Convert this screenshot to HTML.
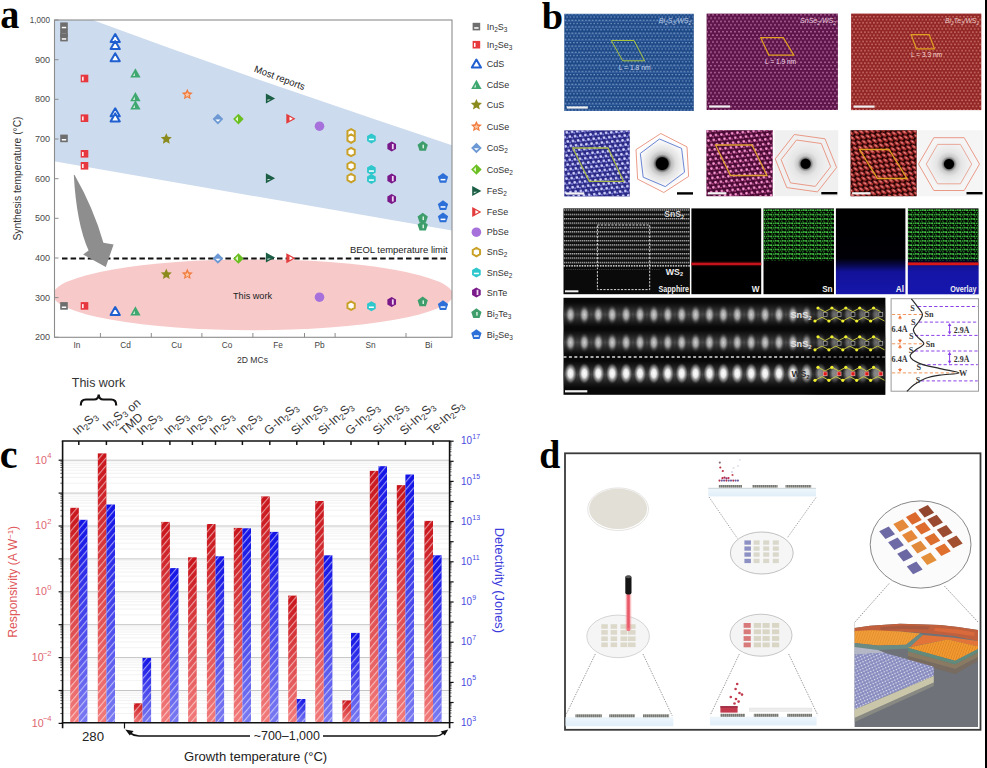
<!DOCTYPE html>
<html><head><meta charset="utf-8"><title>Figure</title>
<style>
html,body{margin:0;padding:0;background:#fff;}
body{width:987px;height:768px;overflow:hidden;}
svg{display:block;}
</style></head><body>
<svg width="987" height="768" viewBox="0 0 987 768">
<rect x="0" y="0" width="987" height="768" fill="#fff"/>
<defs><clipPath id="axA"><rect x="54.5" y="20" width="397.5" height="317.3"/></clipPath></defs>
<g clip-path="url(#axA)">
<polygon points="54,0 92.6,20 170,48.3 250,76.6 376.9,120 452,145.3 452,230.5 54,161.3" fill="#ccdbed"/>
<ellipse cx="253" cy="294.8" rx="200" ry="35.4" fill="#f7c9c9"/>
</g>
<rect x="54.5" y="20" width="397.5" height="317.3" fill="none" stroke="#8c8c8c" stroke-width="1.1"/>
<line x1="54.5" y1="337.3" x2="58.5" y2="337.3" stroke="#8c8c8c" stroke-width="1"/>
<text x="50" y="340.3" font-size="9.3" fill="#4a4a4a" text-anchor="end" textLength="15.1" lengthAdjust="spacingAndGlyphs" font-family="Liberation Sans, sans-serif">200</text>
<line x1="54.5" y1="297.6" x2="58.5" y2="297.6" stroke="#8c8c8c" stroke-width="1"/>
<text x="50" y="300.6" font-size="9.3" fill="#4a4a4a" text-anchor="end" textLength="15.1" lengthAdjust="spacingAndGlyphs" font-family="Liberation Sans, sans-serif">300</text>
<line x1="54.5" y1="258.0" x2="58.5" y2="258.0" stroke="#8c8c8c" stroke-width="1"/>
<text x="50" y="261.0" font-size="9.3" fill="#4a4a4a" text-anchor="end" textLength="15.1" lengthAdjust="spacingAndGlyphs" font-family="Liberation Sans, sans-serif">400</text>
<line x1="54.5" y1="218.3" x2="58.5" y2="218.3" stroke="#8c8c8c" stroke-width="1"/>
<text x="50" y="221.3" font-size="9.3" fill="#4a4a4a" text-anchor="end" textLength="15.1" lengthAdjust="spacingAndGlyphs" font-family="Liberation Sans, sans-serif">500</text>
<line x1="54.5" y1="178.7" x2="58.5" y2="178.7" stroke="#8c8c8c" stroke-width="1"/>
<text x="50" y="181.7" font-size="9.3" fill="#4a4a4a" text-anchor="end" textLength="15.1" lengthAdjust="spacingAndGlyphs" font-family="Liberation Sans, sans-serif">600</text>
<line x1="54.5" y1="139.0" x2="58.5" y2="139.0" stroke="#8c8c8c" stroke-width="1"/>
<text x="50" y="142.0" font-size="9.3" fill="#4a4a4a" text-anchor="end" textLength="15.1" lengthAdjust="spacingAndGlyphs" font-family="Liberation Sans, sans-serif">700</text>
<line x1="54.5" y1="99.3" x2="58.5" y2="99.3" stroke="#8c8c8c" stroke-width="1"/>
<text x="50" y="102.3" font-size="9.3" fill="#4a4a4a" text-anchor="end" textLength="15.1" lengthAdjust="spacingAndGlyphs" font-family="Liberation Sans, sans-serif">800</text>
<line x1="54.5" y1="59.7" x2="58.5" y2="59.7" stroke="#8c8c8c" stroke-width="1"/>
<text x="50" y="62.7" font-size="9.3" fill="#4a4a4a" text-anchor="end" textLength="15.1" lengthAdjust="spacingAndGlyphs" font-family="Liberation Sans, sans-serif">900</text>
<line x1="54.5" y1="20.0" x2="58.5" y2="20.0" stroke="#8c8c8c" stroke-width="1"/>
<text x="50" y="23.0" font-size="9.3" fill="#4a4a4a" text-anchor="end" textLength="20.2" lengthAdjust="spacingAndGlyphs" font-family="Liberation Sans, sans-serif">1,000</text>
<line x1="100.4" y1="337.3" x2="100.4" y2="333" stroke="#8c8c8c" stroke-width="1"/>
<line x1="151.3" y1="337.3" x2="151.3" y2="333" stroke="#8c8c8c" stroke-width="1"/>
<line x1="201.9" y1="337.3" x2="201.9" y2="333" stroke="#8c8c8c" stroke-width="1"/>
<line x1="252.9" y1="337.3" x2="252.9" y2="333" stroke="#8c8c8c" stroke-width="1"/>
<line x1="304.5" y1="337.3" x2="304.5" y2="333" stroke="#8c8c8c" stroke-width="1"/>
<line x1="335.1" y1="337.3" x2="335.1" y2="333" stroke="#8c8c8c" stroke-width="1"/>
<line x1="406" y1="337.3" x2="406" y2="333" stroke="#8c8c8c" stroke-width="1"/>
<text x="77" y="348" font-size="8.3" fill="#444" text-anchor="middle" font-family="Liberation Sans, sans-serif">In</text>
<text x="125.5" y="348" font-size="8.3" fill="#444" text-anchor="middle" font-family="Liberation Sans, sans-serif">Cd</text>
<text x="176.5" y="348" font-size="8.3" fill="#444" text-anchor="middle" font-family="Liberation Sans, sans-serif">Cu</text>
<text x="227" y="348" font-size="8.3" fill="#444" text-anchor="middle" font-family="Liberation Sans, sans-serif">Co</text>
<text x="278" y="348" font-size="8.3" fill="#444" text-anchor="middle" font-family="Liberation Sans, sans-serif">Fe</text>
<text x="319.5" y="348" font-size="8.3" fill="#444" text-anchor="middle" font-family="Liberation Sans, sans-serif">Pb</text>
<text x="370.6" y="348" font-size="8.3" fill="#444" text-anchor="middle" font-family="Liberation Sans, sans-serif">Sn</text>
<text x="428.7" y="348" font-size="8.3" fill="#444" text-anchor="middle" font-family="Liberation Sans, sans-serif">Bi</text>
<text x="252.5" y="363" font-size="8.6" fill="#333" text-anchor="middle" font-family="Liberation Sans, sans-serif">2D MCs</text>
<text transform="translate(20.8,178.5) rotate(-90)" font-size="10.3" fill="#333" text-anchor="middle" textLength="124" lengthAdjust="spacingAndGlyphs" font-family="Liberation Sans, sans-serif">Synthesis temperature (°C)</text>
<line x1="62" y1="258.5" x2="446" y2="258.5" stroke="#111" stroke-width="2.2" stroke-dasharray="5.5 3.1"/>
<text x="447.7" y="253.3" font-size="9.4" fill="#222" text-anchor="end" textLength="97.8" lengthAdjust="spacingAndGlyphs" font-family="Liberation Sans, sans-serif">BEOL temperature limit</text>
<text transform="translate(253.5,71.5) rotate(20.5)" font-size="9.6" fill="#222" font-family="Liberation Sans, sans-serif">Most reports</text>
<text x="233" y="299.3" font-size="9.1" fill="#222" textLength="39" lengthAdjust="spacingAndGlyphs" font-family="Liberation Sans, sans-serif">This work</text>
<path d="M73.8,174.8 Q76.5,224 88.6,250.6 L83.1,254.5 L105.8,267 L113.6,244.4 L103.4,242.8 Q93.5,208 74.6,175 Z" fill="#8e8e8e"/>
<rect x="60.20" y="22.40" width="7.6" height="7.6" fill="#6e6e6e"/><rect x="61.80" y="26.80" width="4.4" height="1.5" fill="#fff"/>
<rect x="60.20" y="29.40" width="7.6" height="7.6" fill="#6e6e6e"/><rect x="61.80" y="33.80" width="4.4" height="1.5" fill="#fff"/>
<rect x="60.20" y="33.80" width="7.6" height="7.6" fill="#6e6e6e"/><rect x="61.80" y="38.20" width="4.4" height="1.5" fill="#fff"/>
<rect x="60.20" y="134.60" width="7.6" height="7.6" fill="#6e6e6e"/><rect x="61.80" y="139.00" width="4.4" height="1.5" fill="#fff"/>
<rect x="60.20" y="302.10" width="7.6" height="7.6" fill="#6e6e6e"/><rect x="61.80" y="306.50" width="4.4" height="1.5" fill="#fff"/>
<rect x="80.70" y="74.70" width="7.6" height="7.6" fill="#e8383f"/><rect x="82.10" y="76.70" width="1.5" height="4" fill="#fff"/>
<rect x="80.70" y="114.40" width="7.6" height="7.6" fill="#e8383f"/><rect x="82.10" y="116.40" width="1.5" height="4" fill="#fff"/>
<rect x="80.70" y="150.00" width="7.6" height="7.6" fill="#e8383f"/><rect x="82.10" y="152.00" width="1.5" height="4" fill="#fff"/>
<rect x="80.70" y="162.00" width="7.6" height="7.6" fill="#e8383f"/><rect x="82.10" y="164.00" width="1.5" height="4" fill="#fff"/>
<rect x="80.70" y="302.10" width="7.6" height="7.6" fill="#e8383f"/><rect x="82.10" y="304.10" width="1.5" height="4" fill="#fff"/>
<polygon points="115.20,34.10 119.80,42.10 110.60,42.10" fill="#fff" stroke="#1f5fcf" stroke-width="2" stroke-linejoin="round"/>
<polygon points="115.20,41.10 119.80,49.10 110.60,49.10" fill="#fff" stroke="#1f5fcf" stroke-width="2" stroke-linejoin="round"/>
<polygon points="115.20,53.20 119.80,61.20 110.60,61.20" fill="#fff" stroke="#1f5fcf" stroke-width="2" stroke-linejoin="round"/>
<polygon points="115.20,108.30 119.80,116.30 110.60,116.30" fill="#fff" stroke="#1f5fcf" stroke-width="2" stroke-linejoin="round"/>
<polygon points="115.20,113.40 119.80,121.40 110.60,121.40" fill="#fff" stroke="#1f5fcf" stroke-width="2" stroke-linejoin="round"/>
<polygon points="115.20,307.10 119.80,315.10 110.60,315.10" fill="#fff" stroke="#1f5fcf" stroke-width="2" stroke-linejoin="round"/>
<polygon points="135.40,68.30 140.60,77.50 130.20,77.50" fill="#3fa870"/><polygon points="134.80,72.70 134.80,76.10 133.00,76.10" fill="#dff3e6"/>
<polygon points="135.40,92.10 140.60,101.30 130.20,101.30" fill="#3fa870"/><polygon points="134.80,96.50 134.80,99.90 133.00,99.90" fill="#dff3e6"/>
<polygon points="135.40,100.30 140.60,109.50 130.20,109.50" fill="#3fa870"/><polygon points="134.80,104.70 134.80,108.10 133.00,108.10" fill="#dff3e6"/>
<polygon points="135.40,306.30 140.60,315.50 130.20,315.50" fill="#3fa870"/><polygon points="134.80,310.70 134.80,314.10 133.00,314.10" fill="#dff3e6"/>
<polygon points="166.30,133.20 167.89,136.82 171.82,137.21 168.87,139.83 169.71,143.69 166.30,141.70 162.89,143.69 163.73,139.83 160.78,137.21 164.71,136.82" fill="#8b8a1c"/>
<polygon points="166.30,268.60 167.89,272.22 171.82,272.61 168.87,275.23 169.71,279.09 166.30,277.10 162.89,279.09 163.73,275.23 160.78,272.61 164.71,272.22" fill="#8b8a1c"/>
<polygon points="187.30,88.70 188.89,92.32 192.82,92.71 189.87,95.33 190.71,99.19 187.30,97.20 183.89,99.19 184.73,95.33 181.78,92.71 185.71,92.32" fill="#f27b3c"/><polygon points="187.30,92.00 188.06,93.75 189.96,93.93 188.54,95.20 188.95,97.07 187.30,96.10 185.65,97.07 186.06,95.20 184.64,93.93 186.54,93.75" fill="#f9c6a4"/>
<polygon points="187.30,268.60 188.89,272.22 192.82,272.61 189.87,275.23 190.71,279.09 187.30,277.10 183.89,279.09 184.73,275.23 181.78,272.61 185.71,272.22" fill="#f27b3c"/><polygon points="187.30,271.90 188.06,273.65 189.96,273.83 188.54,275.10 188.95,276.97 187.30,276.00 185.65,276.97 186.06,275.10 184.64,273.83 186.54,273.65" fill="#f9c6a4"/>
<polygon points="217.90,113.80 223.20,119.10 217.90,124.40 212.60,119.10" fill="#6c98d4"/><polygon points="215.30,119.40 220.50,119.40 217.90,121.70" fill="#fff"/>
<polygon points="217.90,253.20 223.20,258.50 217.90,263.80 212.60,258.50" fill="#6c98d4"/><polygon points="215.30,258.80 220.50,258.80 217.90,261.10" fill="#fff"/>
<polygon points="238.40,113.80 243.70,119.10 238.40,124.40 233.10,119.10" fill="#6abf22"/><polygon points="238.00,116.50 238.00,121.70 235.40,119.10" fill="#e6f5c8"/>
<polygon points="238.40,253.20 243.70,258.50 238.40,263.80 233.10,258.50" fill="#6abf22"/><polygon points="238.00,255.90 238.00,261.10 235.40,258.50" fill="#e6f5c8"/>
<polygon points="265.90,93.60 275.10,98.60 265.90,103.60" fill="#1b5e45"/><polygon points="267.50,99.40 270.90,99.40 267.50,101.00" fill="#cfe3da"/>
<polygon points="265.90,173.20 275.10,178.20 265.90,183.20" fill="#1b5e45"/><polygon points="267.50,179.00 270.90,179.00 267.50,180.60" fill="#cfe3da"/>
<polygon points="265.90,252.60 275.10,257.60 265.90,262.60" fill="#1b5e45"/><polygon points="267.50,258.40 270.90,258.40 267.50,260.00" fill="#cfe3da"/>
<polygon points="286.30,113.70 295.50,118.70 286.30,123.70" fill="#e23c3c"/><polygon points="289.50,116.70 292.90,118.70 289.50,120.70" fill="#fff"/>
<polygon points="286.30,253.20 295.50,258.20 286.30,263.20" fill="#e23c3c"/><polygon points="289.50,256.20 292.90,258.20 289.50,260.20" fill="#fff"/>
<circle cx="319.50" cy="126.20" r="4.8" fill="#a771dc"/>
<circle cx="319.50" cy="297.20" r="4.8" fill="#a771dc"/>
<polygon points="351.10,129.10 354.74,131.20 354.74,135.40 351.10,137.50 347.46,135.40 347.46,131.20" fill="#fff" stroke="#c9a128" stroke-width="2"/>
<polygon points="351.10,134.40 354.74,136.50 354.74,140.70 351.10,142.80 347.46,140.70 347.46,136.50" fill="#fff" stroke="#c9a128" stroke-width="2"/>
<polygon points="351.10,147.80 354.74,149.90 354.74,154.10 351.10,156.20 347.46,154.10 347.46,149.90" fill="#fff" stroke="#c9a128" stroke-width="2"/>
<polygon points="351.10,161.90 354.74,164.00 354.74,168.20 351.10,170.30 347.46,168.20 347.46,164.00" fill="#fff" stroke="#c9a128" stroke-width="2"/>
<polygon points="351.10,173.90 354.74,176.00 354.74,180.20 351.10,182.30 347.46,180.20 347.46,176.00" fill="#fff" stroke="#c9a128" stroke-width="2"/>
<polygon points="351.10,301.50 354.74,303.60 354.74,307.80 351.10,309.90 347.46,307.80 347.46,303.60" fill="#fff" stroke="#c9a128" stroke-width="2"/>
<polygon points="371.40,133.40 375.73,135.90 375.73,140.90 371.40,143.40 367.07,140.90 367.07,135.90" fill="#2ec7cc"/><rect x="368.90" y="138.70" width="5" height="1.5" fill="#fff"/>
<polygon points="371.40,165.00 375.73,167.50 375.73,172.50 371.40,175.00 367.07,172.50 367.07,167.50" fill="#2ec7cc"/><rect x="368.90" y="170.30" width="5" height="1.5" fill="#fff"/>
<polygon points="371.40,174.00 375.73,176.50 375.73,181.50 371.40,184.00 367.07,181.50 367.07,176.50" fill="#2ec7cc"/><rect x="368.90" y="179.30" width="5" height="1.5" fill="#fff"/>
<polygon points="371.40,301.20 375.73,303.70 375.73,308.70 371.40,311.20 367.07,308.70 367.07,303.70" fill="#2ec7cc"/><rect x="368.90" y="306.50" width="5" height="1.5" fill="#fff"/>
<polygon points="391.70,141.60 396.03,144.10 396.03,149.10 391.70,151.60 387.37,149.10 387.37,144.10" fill="#7a1989"/><rect x="391.90" y="144.00" width="1.8" height="5.2" fill="#f0d8f3"/>
<polygon points="391.70,173.60 396.03,176.10 396.03,181.10 391.70,183.60 387.37,181.10 387.37,176.10" fill="#7a1989"/><rect x="391.90" y="176.00" width="1.8" height="5.2" fill="#f0d8f3"/>
<polygon points="391.70,193.90 396.03,196.40 396.03,201.40 391.70,203.90 387.37,201.40 387.37,196.40" fill="#7a1989"/><rect x="391.90" y="196.30" width="1.8" height="5.2" fill="#f0d8f3"/>
<polygon points="391.70,297.00 396.03,299.50 396.03,304.50 391.70,307.00 387.37,304.50 387.37,299.50" fill="#7a1989"/><rect x="391.90" y="299.40" width="1.8" height="5.2" fill="#f0d8f3"/>
<polygon points="422.70,140.90 427.84,144.63 425.87,150.67 419.53,150.67 417.56,144.63" fill="#3d9e6c"/><rect x="422.50" y="144.70" width="1.5" height="3.6" fill="#d9efe2"/>
<polygon points="422.70,212.70 427.84,216.43 425.87,222.47 419.53,222.47 417.56,216.43" fill="#3d9e6c"/><rect x="422.50" y="216.50" width="1.5" height="3.6" fill="#d9efe2"/>
<polygon points="422.70,220.80 427.84,224.53 425.87,230.57 419.53,230.57 417.56,224.53" fill="#3d9e6c"/><rect x="422.50" y="224.60" width="1.5" height="3.6" fill="#d9efe2"/>
<polygon points="422.70,296.60 427.84,300.33 425.87,306.37 419.53,306.37 417.56,300.33" fill="#3d9e6c"/><rect x="422.50" y="300.40" width="1.5" height="3.6" fill="#d9efe2"/>
<polygon points="443.00,172.90 448.14,176.63 446.17,182.67 439.83,182.67 437.86,176.63" fill="#2d6fd8"/><rect x="440.60" y="178.90" width="4.8" height="1.5" fill="#fff"/>
<polygon points="443.00,200.20 448.14,203.93 446.17,209.97 439.83,209.97 437.86,203.93" fill="#2d6fd8"/><rect x="440.60" y="206.20" width="4.8" height="1.5" fill="#fff"/>
<polygon points="443.00,212.60 448.14,216.33 446.17,222.37 439.83,222.37 437.86,216.33" fill="#2d6fd8"/><rect x="440.60" y="218.60" width="4.8" height="1.5" fill="#fff"/>
<polygon points="443.00,300.30 448.14,304.03 446.17,310.07 439.83,310.07 437.86,304.03" fill="#2d6fd8"/><rect x="440.60" y="306.30" width="4.8" height="1.5" fill="#fff"/>
<rect x="472.60" y="22.80" width="7.6" height="7.6" fill="#6e6e6e"/><rect x="474.20" y="27.20" width="4.4" height="1.5" fill="#fff"/>
<text x="486.7" y="29.8" font-size="9" fill="#333" font-family="Liberation Sans, sans-serif">In<tspan font-size="6.5" dy="2">2</tspan><tspan dy="-2">S</tspan><tspan font-size="6.5" dy="2">3</tspan></text>
<rect x="472.60" y="40.90" width="7.6" height="7.6" fill="#e8383f"/><rect x="474.00" y="42.90" width="1.5" height="4" fill="#fff"/>
<text x="486.7" y="47.9" font-size="9" fill="#333" font-family="Liberation Sans, sans-serif">In<tspan font-size="6.5" dy="2">2</tspan><tspan dy="-2">Se</tspan><tspan font-size="6.5" dy="2">3</tspan></text>
<polygon points="476.40,59.60 481.00,67.60 471.80,67.60" fill="#fff" stroke="#1f5fcf" stroke-width="2" stroke-linejoin="round"/>
<text x="486.7" y="67.0" font-size="9" fill="#333" font-family="Liberation Sans, sans-serif">CdS</text>
<polygon points="476.40,79.70 481.60,88.90 471.20,88.90" fill="#3fa870"/><polygon points="475.80,84.10 475.80,87.50 474.00,87.50" fill="#dff3e6"/>
<text x="486.7" y="87.9" font-size="9" fill="#333" font-family="Liberation Sans, sans-serif">CdSe</text>
<polygon points="476.40,99.00 477.99,102.62 481.92,103.01 478.97,105.63 479.81,109.49 476.40,107.50 472.99,109.49 473.83,105.63 470.88,103.01 474.81,102.62" fill="#8b8a1c"/>
<text x="486.7" y="108.0" font-size="9" fill="#333" font-family="Liberation Sans, sans-serif">CuS</text>
<polygon points="476.40,120.70 477.99,124.32 481.92,124.71 478.97,127.33 479.81,131.19 476.40,129.20 472.99,131.19 473.83,127.33 470.88,124.71 474.81,124.32" fill="#f27b3c"/><polygon points="476.40,124.00 477.16,125.75 479.06,125.93 477.64,127.20 478.05,129.07 476.40,128.10 474.75,129.07 475.16,127.20 473.74,125.93 475.64,125.75" fill="#f9c6a4"/>
<text x="486.7" y="129.7" font-size="9" fill="#333" font-family="Liberation Sans, sans-serif">CuSe</text>
<polygon points="476.40,142.70 481.70,148.00 476.40,153.30 471.10,148.00" fill="#6c98d4"/><polygon points="473.80,148.30 479.00,148.30 476.40,150.60" fill="#fff"/>
<text x="486.7" y="151.2" font-size="9" fill="#333" font-family="Liberation Sans, sans-serif">CoS<tspan font-size="6.5" dy="2">2</tspan></text>
<polygon points="476.40,164.20 481.70,169.50 476.40,174.80 471.10,169.50" fill="#6abf22"/><polygon points="476.00,166.90 476.00,172.10 473.40,169.50" fill="#e6f5c8"/>
<text x="486.7" y="172.7" font-size="9" fill="#333" font-family="Liberation Sans, sans-serif">CoSe<tspan font-size="6.5" dy="2">2</tspan></text>
<polygon points="472.20,186.00 481.40,191.00 472.20,196.00" fill="#1b5e45"/><polygon points="473.80,191.80 477.20,191.80 473.80,193.40" fill="#cfe3da"/>
<text x="486.7" y="194.2" font-size="9" fill="#333" font-family="Liberation Sans, sans-serif">FeS<tspan font-size="6.5" dy="2">2</tspan></text>
<polygon points="472.20,207.00 481.40,212.00 472.20,217.00" fill="#e23c3c"/><polygon points="475.40,210.00 478.80,212.00 475.40,214.00" fill="#fff"/>
<text x="486.7" y="215.2" font-size="9" fill="#333" font-family="Liberation Sans, sans-serif">FeSe</text>
<circle cx="476.40" cy="232.20" r="4.8" fill="#a771dc"/>
<text x="486.7" y="235.4" font-size="9" fill="#333" font-family="Liberation Sans, sans-serif">PbSe</text>
<polygon points="476.40,247.90 480.04,250.00 480.04,254.20 476.40,256.30 472.76,254.20 472.76,250.00" fill="#fff" stroke="#c9a128" stroke-width="2"/>
<text x="486.7" y="255.3" font-size="9" fill="#333" font-family="Liberation Sans, sans-serif">SnS<tspan font-size="6.5" dy="2">2</tspan></text>
<polygon points="476.40,267.40 480.73,269.90 480.73,274.90 476.40,277.40 472.07,274.90 472.07,269.90" fill="#2ec7cc"/><rect x="473.90" y="272.70" width="5" height="1.5" fill="#fff"/>
<text x="486.7" y="275.6" font-size="9" fill="#333" font-family="Liberation Sans, sans-serif">SnSe<tspan font-size="6.5" dy="2">2</tspan></text>
<polygon points="476.40,287.40 480.73,289.90 480.73,294.90 476.40,297.40 472.07,294.90 472.07,289.90" fill="#7a1989"/><rect x="476.60" y="289.80" width="1.8" height="5.2" fill="#f0d8f3"/>
<text x="486.7" y="295.6" font-size="9" fill="#333" font-family="Liberation Sans, sans-serif">SnTe</text>
<polygon points="476.40,308.20 481.54,311.93 479.57,317.97 473.23,317.97 471.26,311.93" fill="#3d9e6c"/><rect x="476.20" y="312.00" width="1.5" height="3.6" fill="#d9efe2"/>
<text x="486.7" y="316.8" font-size="9" fill="#333" font-family="Liberation Sans, sans-serif">Bi<tspan font-size="6.5" dy="2">2</tspan><tspan dy="-2">Te</tspan><tspan font-size="6.5" dy="2">3</tspan></text>
<polygon points="476.40,329.30 481.54,333.03 479.57,339.07 473.23,339.07 471.26,333.03" fill="#2d6fd8"/><rect x="474.00" y="335.30" width="4.8" height="1.5" fill="#fff"/>
<text x="486.7" y="337.9" font-size="9" fill="#333" font-family="Liberation Sans, sans-serif">Bi<tspan font-size="6.5" dy="2">2</tspan><tspan dy="-2">Se</tspan><tspan font-size="6.5" dy="2">3</tspan></text>
<defs>
<linearGradient id="gR" x1="0" y1="0" x2="0" y2="1"><stop offset="0" stop-color="#c8141a"/><stop offset="1" stop-color="#f27a7a"/></linearGradient>
<linearGradient id="gB" x1="0" y1="0" x2="0" y2="1"><stop offset="0" stop-color="#1212e6"/><stop offset="1" stop-color="#7a7af2"/></linearGradient>
<pattern id="hatch" patternUnits="userSpaceOnUse" width="5" height="5" patternTransform="rotate(40)"><rect x="0" y="0" width="1.1" height="5" fill="rgba(255,255,255,0.55)"/></pattern>
</defs>
<line x1="62.6" y1="713.5" x2="449.6" y2="713.5" stroke="#efefef" stroke-width="0.8"/>
<line x1="62.6" y1="707.7" x2="449.6" y2="707.7" stroke="#efefef" stroke-width="0.8"/>
<line x1="62.6" y1="703.6" x2="449.6" y2="703.6" stroke="#efefef" stroke-width="0.8"/>
<line x1="62.6" y1="700.4" x2="449.6" y2="700.4" stroke="#efefef" stroke-width="0.8"/>
<line x1="62.6" y1="697.8" x2="449.6" y2="697.8" stroke="#efefef" stroke-width="0.8"/>
<line x1="62.6" y1="695.6" x2="449.6" y2="695.6" stroke="#efefef" stroke-width="0.8"/>
<line x1="62.6" y1="693.7" x2="449.6" y2="693.7" stroke="#efefef" stroke-width="0.8"/>
<line x1="62.6" y1="692.0" x2="449.6" y2="692.0" stroke="#efefef" stroke-width="0.8"/>
<line x1="62.6" y1="680.6" x2="449.6" y2="680.6" stroke="#efefef" stroke-width="0.8"/>
<line x1="62.6" y1="674.8" x2="449.6" y2="674.8" stroke="#efefef" stroke-width="0.8"/>
<line x1="62.6" y1="670.7" x2="449.6" y2="670.7" stroke="#efefef" stroke-width="0.8"/>
<line x1="62.6" y1="667.5" x2="449.6" y2="667.5" stroke="#efefef" stroke-width="0.8"/>
<line x1="62.6" y1="664.9" x2="449.6" y2="664.9" stroke="#efefef" stroke-width="0.8"/>
<line x1="62.6" y1="662.7" x2="449.6" y2="662.7" stroke="#efefef" stroke-width="0.8"/>
<line x1="62.6" y1="660.8" x2="449.6" y2="660.8" stroke="#efefef" stroke-width="0.8"/>
<line x1="62.6" y1="659.1" x2="449.6" y2="659.1" stroke="#efefef" stroke-width="0.8"/>
<line x1="62.6" y1="647.7" x2="449.6" y2="647.7" stroke="#efefef" stroke-width="0.8"/>
<line x1="62.6" y1="641.9" x2="449.6" y2="641.9" stroke="#efefef" stroke-width="0.8"/>
<line x1="62.6" y1="637.8" x2="449.6" y2="637.8" stroke="#efefef" stroke-width="0.8"/>
<line x1="62.6" y1="634.6" x2="449.6" y2="634.6" stroke="#efefef" stroke-width="0.8"/>
<line x1="62.6" y1="632.0" x2="449.6" y2="632.0" stroke="#efefef" stroke-width="0.8"/>
<line x1="62.6" y1="629.8" x2="449.6" y2="629.8" stroke="#efefef" stroke-width="0.8"/>
<line x1="62.6" y1="627.9" x2="449.6" y2="627.9" stroke="#efefef" stroke-width="0.8"/>
<line x1="62.6" y1="626.2" x2="449.6" y2="626.2" stroke="#efefef" stroke-width="0.8"/>
<line x1="62.6" y1="614.8" x2="449.6" y2="614.8" stroke="#efefef" stroke-width="0.8"/>
<line x1="62.6" y1="609.0" x2="449.6" y2="609.0" stroke="#efefef" stroke-width="0.8"/>
<line x1="62.6" y1="604.9" x2="449.6" y2="604.9" stroke="#efefef" stroke-width="0.8"/>
<line x1="62.6" y1="601.7" x2="449.6" y2="601.7" stroke="#efefef" stroke-width="0.8"/>
<line x1="62.6" y1="599.1" x2="449.6" y2="599.1" stroke="#efefef" stroke-width="0.8"/>
<line x1="62.6" y1="596.9" x2="449.6" y2="596.9" stroke="#efefef" stroke-width="0.8"/>
<line x1="62.6" y1="595.0" x2="449.6" y2="595.0" stroke="#efefef" stroke-width="0.8"/>
<line x1="62.6" y1="593.3" x2="449.6" y2="593.3" stroke="#efefef" stroke-width="0.8"/>
<line x1="62.6" y1="581.9" x2="449.6" y2="581.9" stroke="#efefef" stroke-width="0.8"/>
<line x1="62.6" y1="576.1" x2="449.6" y2="576.1" stroke="#efefef" stroke-width="0.8"/>
<line x1="62.6" y1="572.0" x2="449.6" y2="572.0" stroke="#efefef" stroke-width="0.8"/>
<line x1="62.6" y1="568.8" x2="449.6" y2="568.8" stroke="#efefef" stroke-width="0.8"/>
<line x1="62.6" y1="566.2" x2="449.6" y2="566.2" stroke="#efefef" stroke-width="0.8"/>
<line x1="62.6" y1="564.0" x2="449.6" y2="564.0" stroke="#efefef" stroke-width="0.8"/>
<line x1="62.6" y1="562.1" x2="449.6" y2="562.1" stroke="#efefef" stroke-width="0.8"/>
<line x1="62.6" y1="560.4" x2="449.6" y2="560.4" stroke="#efefef" stroke-width="0.8"/>
<line x1="62.6" y1="549.0" x2="449.6" y2="549.0" stroke="#efefef" stroke-width="0.8"/>
<line x1="62.6" y1="543.2" x2="449.6" y2="543.2" stroke="#efefef" stroke-width="0.8"/>
<line x1="62.6" y1="539.1" x2="449.6" y2="539.1" stroke="#efefef" stroke-width="0.8"/>
<line x1="62.6" y1="535.9" x2="449.6" y2="535.9" stroke="#efefef" stroke-width="0.8"/>
<line x1="62.6" y1="533.3" x2="449.6" y2="533.3" stroke="#efefef" stroke-width="0.8"/>
<line x1="62.6" y1="531.1" x2="449.6" y2="531.1" stroke="#efefef" stroke-width="0.8"/>
<line x1="62.6" y1="529.2" x2="449.6" y2="529.2" stroke="#efefef" stroke-width="0.8"/>
<line x1="62.6" y1="527.5" x2="449.6" y2="527.5" stroke="#efefef" stroke-width="0.8"/>
<line x1="62.6" y1="516.1" x2="449.6" y2="516.1" stroke="#efefef" stroke-width="0.8"/>
<line x1="62.6" y1="510.3" x2="449.6" y2="510.3" stroke="#efefef" stroke-width="0.8"/>
<line x1="62.6" y1="506.2" x2="449.6" y2="506.2" stroke="#efefef" stroke-width="0.8"/>
<line x1="62.6" y1="503.0" x2="449.6" y2="503.0" stroke="#efefef" stroke-width="0.8"/>
<line x1="62.6" y1="500.4" x2="449.6" y2="500.4" stroke="#efefef" stroke-width="0.8"/>
<line x1="62.6" y1="498.2" x2="449.6" y2="498.2" stroke="#efefef" stroke-width="0.8"/>
<line x1="62.6" y1="496.3" x2="449.6" y2="496.3" stroke="#efefef" stroke-width="0.8"/>
<line x1="62.6" y1="494.6" x2="449.6" y2="494.6" stroke="#efefef" stroke-width="0.8"/>
<line x1="62.6" y1="483.2" x2="449.6" y2="483.2" stroke="#efefef" stroke-width="0.8"/>
<line x1="62.6" y1="477.4" x2="449.6" y2="477.4" stroke="#efefef" stroke-width="0.8"/>
<line x1="62.6" y1="473.3" x2="449.6" y2="473.3" stroke="#efefef" stroke-width="0.8"/>
<line x1="62.6" y1="470.1" x2="449.6" y2="470.1" stroke="#efefef" stroke-width="0.8"/>
<line x1="62.6" y1="467.5" x2="449.6" y2="467.5" stroke="#efefef" stroke-width="0.8"/>
<line x1="62.6" y1="465.3" x2="449.6" y2="465.3" stroke="#efefef" stroke-width="0.8"/>
<line x1="62.6" y1="463.4" x2="449.6" y2="463.4" stroke="#efefef" stroke-width="0.8"/>
<line x1="62.6" y1="461.7" x2="449.6" y2="461.7" stroke="#efefef" stroke-width="0.8"/>
<line x1="62.6" y1="690.5" x2="449.6" y2="690.5" stroke="#c4c4c4" stroke-width="1"/>
<line x1="62.6" y1="657.6" x2="449.6" y2="657.6" stroke="#c4c4c4" stroke-width="1"/>
<line x1="62.6" y1="624.7" x2="449.6" y2="624.7" stroke="#c4c4c4" stroke-width="1"/>
<line x1="62.6" y1="591.8" x2="449.6" y2="591.8" stroke="#c4c4c4" stroke-width="1"/>
<line x1="62.6" y1="558.9" x2="449.6" y2="558.9" stroke="#c4c4c4" stroke-width="1"/>
<line x1="62.6" y1="526.0" x2="449.6" y2="526.0" stroke="#c4c4c4" stroke-width="1"/>
<line x1="62.6" y1="493.1" x2="449.6" y2="493.1" stroke="#c4c4c4" stroke-width="1"/>
<line x1="62.6" y1="460.2" x2="449.6" y2="460.2" stroke="#c4c4c4" stroke-width="1"/>
<rect x="70.2" y="507.8" width="8.6" height="215.0" fill="url(#gR)"/>
<rect x="70.2" y="507.8" width="8.6" height="215.0" fill="url(#hatch)"/>
<rect x="78.8" y="519.8" width="8.6" height="203.0" fill="url(#gB)"/>
<rect x="78.8" y="519.8" width="8.6" height="203.0" fill="url(#hatch)"/>
<rect x="97.8" y="453.4" width="8.6" height="269.4" fill="url(#gR)"/>
<rect x="97.8" y="453.4" width="8.6" height="269.4" fill="url(#hatch)"/>
<rect x="106.4" y="504.5" width="8.6" height="218.3" fill="url(#gB)"/>
<rect x="106.4" y="504.5" width="8.6" height="218.3" fill="url(#hatch)"/>
<rect x="133.9" y="703.3" width="8.6" height="19.5" fill="url(#gR)"/>
<rect x="133.9" y="703.3" width="8.6" height="19.5" fill="url(#hatch)"/>
<rect x="142.5" y="657.9" width="8.6" height="64.9" fill="url(#gB)"/>
<rect x="142.5" y="657.9" width="8.6" height="64.9" fill="url(#hatch)"/>
<rect x="161.3" y="521.9" width="8.6" height="200.9" fill="url(#gR)"/>
<rect x="161.3" y="521.9" width="8.6" height="200.9" fill="url(#hatch)"/>
<rect x="169.9" y="568.1" width="8.6" height="154.7" fill="url(#gB)"/>
<rect x="169.9" y="568.1" width="8.6" height="154.7" fill="url(#hatch)"/>
<rect x="188.1" y="557.3" width="8.6" height="165.5" fill="url(#gR)"/>
<rect x="188.1" y="557.3" width="8.6" height="165.5" fill="url(#hatch)"/>
<rect x="206.9" y="524.0" width="8.6" height="198.8" fill="url(#gR)"/>
<rect x="206.9" y="524.0" width="8.6" height="198.8" fill="url(#hatch)"/>
<rect x="215.5" y="556.3" width="8.6" height="166.5" fill="url(#gB)"/>
<rect x="215.5" y="556.3" width="8.6" height="166.5" fill="url(#hatch)"/>
<rect x="233.8" y="527.9" width="8.6" height="194.9" fill="url(#gR)"/>
<rect x="233.8" y="527.9" width="8.6" height="194.9" fill="url(#hatch)"/>
<rect x="242.4" y="528.3" width="8.6" height="194.5" fill="url(#gB)"/>
<rect x="242.4" y="528.3" width="8.6" height="194.5" fill="url(#hatch)"/>
<rect x="261.2" y="496.4" width="8.6" height="226.4" fill="url(#gR)"/>
<rect x="261.2" y="496.4" width="8.6" height="226.4" fill="url(#hatch)"/>
<rect x="269.8" y="531.9" width="8.6" height="190.9" fill="url(#gB)"/>
<rect x="269.8" y="531.9" width="8.6" height="190.9" fill="url(#hatch)"/>
<rect x="288.2" y="595.6" width="8.6" height="127.2" fill="url(#gR)"/>
<rect x="288.2" y="595.6" width="8.6" height="127.2" fill="url(#hatch)"/>
<rect x="296.8" y="699.0" width="8.6" height="23.8" fill="url(#gB)"/>
<rect x="296.8" y="699.0" width="8.6" height="23.8" fill="url(#hatch)"/>
<rect x="315.2" y="501.0" width="8.6" height="221.8" fill="url(#gR)"/>
<rect x="315.2" y="501.0" width="8.6" height="221.8" fill="url(#hatch)"/>
<rect x="323.8" y="555.3" width="8.6" height="167.5" fill="url(#gB)"/>
<rect x="323.8" y="555.3" width="8.6" height="167.5" fill="url(#hatch)"/>
<rect x="342.4" y="700.4" width="8.6" height="22.4" fill="url(#gR)"/>
<rect x="342.4" y="700.4" width="8.6" height="22.4" fill="url(#hatch)"/>
<rect x="351.0" y="632.9" width="8.6" height="89.9" fill="url(#gB)"/>
<rect x="351.0" y="632.9" width="8.6" height="89.9" fill="url(#hatch)"/>
<rect x="369.8" y="470.9" width="8.6" height="251.9" fill="url(#gR)"/>
<rect x="369.8" y="470.9" width="8.6" height="251.9" fill="url(#hatch)"/>
<rect x="378.4" y="466.2" width="8.6" height="256.6" fill="url(#gB)"/>
<rect x="378.4" y="466.2" width="8.6" height="256.6" fill="url(#hatch)"/>
<rect x="396.8" y="485.1" width="8.6" height="237.7" fill="url(#gR)"/>
<rect x="396.8" y="485.1" width="8.6" height="237.7" fill="url(#hatch)"/>
<rect x="405.4" y="474.5" width="8.6" height="248.3" fill="url(#gB)"/>
<rect x="405.4" y="474.5" width="8.6" height="248.3" fill="url(#hatch)"/>
<rect x="424.4" y="520.9" width="8.6" height="201.9" fill="url(#gR)"/>
<rect x="424.4" y="520.9" width="8.6" height="201.9" fill="url(#hatch)"/>
<rect x="433.0" y="555.3" width="8.6" height="167.5" fill="url(#gB)"/>
<rect x="433.0" y="555.3" width="8.6" height="167.5" fill="url(#hatch)"/>
<line x1="61.800000000000004" y1="441.0" x2="450.40000000000003" y2="441.0" stroke="#111" stroke-width="1.6"/>
<line x1="61.800000000000004" y1="722.8" x2="450.40000000000003" y2="722.8" stroke="#111" stroke-width="1.6"/>
<line x1="62.6" y1="441.0" x2="62.6" y2="728.3" stroke="#111" stroke-width="1.6"/>
<line x1="449.6" y1="441.0" x2="449.6" y2="728.3" stroke="#111" stroke-width="1.6"/>
<line x1="78.8" y1="441.0" x2="78.8" y2="445.0" stroke="#111" stroke-width="1.5"/>
<line x1="106.4" y1="441.0" x2="106.4" y2="445.0" stroke="#111" stroke-width="1.5"/>
<line x1="142.5" y1="441.0" x2="142.5" y2="445.0" stroke="#111" stroke-width="1.5"/>
<line x1="169.9" y1="441.0" x2="169.9" y2="445.0" stroke="#111" stroke-width="1.5"/>
<line x1="192.4" y1="441.0" x2="192.4" y2="445.0" stroke="#111" stroke-width="1.5"/>
<line x1="215.5" y1="441.0" x2="215.5" y2="445.0" stroke="#111" stroke-width="1.5"/>
<line x1="242.4" y1="441.0" x2="242.4" y2="445.0" stroke="#111" stroke-width="1.5"/>
<line x1="269.8" y1="441.0" x2="269.8" y2="445.0" stroke="#111" stroke-width="1.5"/>
<line x1="296.8" y1="441.0" x2="296.8" y2="445.0" stroke="#111" stroke-width="1.5"/>
<line x1="323.8" y1="441.0" x2="323.8" y2="445.0" stroke="#111" stroke-width="1.5"/>
<line x1="351.0" y1="441.0" x2="351.0" y2="445.0" stroke="#111" stroke-width="1.5"/>
<line x1="378.4" y1="441.0" x2="378.4" y2="445.0" stroke="#111" stroke-width="1.5"/>
<line x1="405.4" y1="441.0" x2="405.4" y2="445.0" stroke="#111" stroke-width="1.5"/>
<line x1="433.0" y1="441.0" x2="433.0" y2="445.0" stroke="#111" stroke-width="1.5"/>
<line x1="58.6" y1="723.4" x2="62.6" y2="723.4" stroke="#111" stroke-width="1.2"/>
<line x1="60.4" y1="713.5" x2="62.6" y2="713.5" stroke="#111" stroke-width="0.7"/>
<line x1="60.4" y1="707.7" x2="62.6" y2="707.7" stroke="#111" stroke-width="0.7"/>
<line x1="60.4" y1="703.6" x2="62.6" y2="703.6" stroke="#111" stroke-width="0.7"/>
<line x1="60.4" y1="700.4" x2="62.6" y2="700.4" stroke="#111" stroke-width="0.7"/>
<line x1="60.4" y1="697.8" x2="62.6" y2="697.8" stroke="#111" stroke-width="0.7"/>
<line x1="60.4" y1="695.6" x2="62.6" y2="695.6" stroke="#111" stroke-width="0.7"/>
<line x1="60.4" y1="693.7" x2="62.6" y2="693.7" stroke="#111" stroke-width="0.7"/>
<line x1="60.4" y1="692.0" x2="62.6" y2="692.0" stroke="#111" stroke-width="0.7"/>
<line x1="58.6" y1="690.5" x2="62.6" y2="690.5" stroke="#111" stroke-width="1.2"/>
<line x1="60.4" y1="680.6" x2="62.6" y2="680.6" stroke="#111" stroke-width="0.7"/>
<line x1="60.4" y1="674.8" x2="62.6" y2="674.8" stroke="#111" stroke-width="0.7"/>
<line x1="60.4" y1="670.7" x2="62.6" y2="670.7" stroke="#111" stroke-width="0.7"/>
<line x1="60.4" y1="667.5" x2="62.6" y2="667.5" stroke="#111" stroke-width="0.7"/>
<line x1="60.4" y1="664.9" x2="62.6" y2="664.9" stroke="#111" stroke-width="0.7"/>
<line x1="60.4" y1="662.7" x2="62.6" y2="662.7" stroke="#111" stroke-width="0.7"/>
<line x1="60.4" y1="660.8" x2="62.6" y2="660.8" stroke="#111" stroke-width="0.7"/>
<line x1="60.4" y1="659.1" x2="62.6" y2="659.1" stroke="#111" stroke-width="0.7"/>
<line x1="58.6" y1="657.6" x2="62.6" y2="657.6" stroke="#111" stroke-width="1.2"/>
<line x1="60.4" y1="647.7" x2="62.6" y2="647.7" stroke="#111" stroke-width="0.7"/>
<line x1="60.4" y1="641.9" x2="62.6" y2="641.9" stroke="#111" stroke-width="0.7"/>
<line x1="60.4" y1="637.8" x2="62.6" y2="637.8" stroke="#111" stroke-width="0.7"/>
<line x1="60.4" y1="634.6" x2="62.6" y2="634.6" stroke="#111" stroke-width="0.7"/>
<line x1="60.4" y1="632.0" x2="62.6" y2="632.0" stroke="#111" stroke-width="0.7"/>
<line x1="60.4" y1="629.8" x2="62.6" y2="629.8" stroke="#111" stroke-width="0.7"/>
<line x1="60.4" y1="627.9" x2="62.6" y2="627.9" stroke="#111" stroke-width="0.7"/>
<line x1="60.4" y1="626.2" x2="62.6" y2="626.2" stroke="#111" stroke-width="0.7"/>
<line x1="58.6" y1="624.7" x2="62.6" y2="624.7" stroke="#111" stroke-width="1.2"/>
<line x1="60.4" y1="614.8" x2="62.6" y2="614.8" stroke="#111" stroke-width="0.7"/>
<line x1="60.4" y1="609.0" x2="62.6" y2="609.0" stroke="#111" stroke-width="0.7"/>
<line x1="60.4" y1="604.9" x2="62.6" y2="604.9" stroke="#111" stroke-width="0.7"/>
<line x1="60.4" y1="601.7" x2="62.6" y2="601.7" stroke="#111" stroke-width="0.7"/>
<line x1="60.4" y1="599.1" x2="62.6" y2="599.1" stroke="#111" stroke-width="0.7"/>
<line x1="60.4" y1="596.9" x2="62.6" y2="596.9" stroke="#111" stroke-width="0.7"/>
<line x1="60.4" y1="595.0" x2="62.6" y2="595.0" stroke="#111" stroke-width="0.7"/>
<line x1="60.4" y1="593.3" x2="62.6" y2="593.3" stroke="#111" stroke-width="0.7"/>
<line x1="58.6" y1="591.8" x2="62.6" y2="591.8" stroke="#111" stroke-width="1.2"/>
<line x1="60.4" y1="581.9" x2="62.6" y2="581.9" stroke="#111" stroke-width="0.7"/>
<line x1="60.4" y1="576.1" x2="62.6" y2="576.1" stroke="#111" stroke-width="0.7"/>
<line x1="60.4" y1="572.0" x2="62.6" y2="572.0" stroke="#111" stroke-width="0.7"/>
<line x1="60.4" y1="568.8" x2="62.6" y2="568.8" stroke="#111" stroke-width="0.7"/>
<line x1="60.4" y1="566.2" x2="62.6" y2="566.2" stroke="#111" stroke-width="0.7"/>
<line x1="60.4" y1="564.0" x2="62.6" y2="564.0" stroke="#111" stroke-width="0.7"/>
<line x1="60.4" y1="562.1" x2="62.6" y2="562.1" stroke="#111" stroke-width="0.7"/>
<line x1="60.4" y1="560.4" x2="62.6" y2="560.4" stroke="#111" stroke-width="0.7"/>
<line x1="58.6" y1="558.9" x2="62.6" y2="558.9" stroke="#111" stroke-width="1.2"/>
<line x1="60.4" y1="549.0" x2="62.6" y2="549.0" stroke="#111" stroke-width="0.7"/>
<line x1="60.4" y1="543.2" x2="62.6" y2="543.2" stroke="#111" stroke-width="0.7"/>
<line x1="60.4" y1="539.1" x2="62.6" y2="539.1" stroke="#111" stroke-width="0.7"/>
<line x1="60.4" y1="535.9" x2="62.6" y2="535.9" stroke="#111" stroke-width="0.7"/>
<line x1="60.4" y1="533.3" x2="62.6" y2="533.3" stroke="#111" stroke-width="0.7"/>
<line x1="60.4" y1="531.1" x2="62.6" y2="531.1" stroke="#111" stroke-width="0.7"/>
<line x1="60.4" y1="529.2" x2="62.6" y2="529.2" stroke="#111" stroke-width="0.7"/>
<line x1="60.4" y1="527.5" x2="62.6" y2="527.5" stroke="#111" stroke-width="0.7"/>
<line x1="58.6" y1="526.0" x2="62.6" y2="526.0" stroke="#111" stroke-width="1.2"/>
<line x1="60.4" y1="516.1" x2="62.6" y2="516.1" stroke="#111" stroke-width="0.7"/>
<line x1="60.4" y1="510.3" x2="62.6" y2="510.3" stroke="#111" stroke-width="0.7"/>
<line x1="60.4" y1="506.2" x2="62.6" y2="506.2" stroke="#111" stroke-width="0.7"/>
<line x1="60.4" y1="503.0" x2="62.6" y2="503.0" stroke="#111" stroke-width="0.7"/>
<line x1="60.4" y1="500.4" x2="62.6" y2="500.4" stroke="#111" stroke-width="0.7"/>
<line x1="60.4" y1="498.2" x2="62.6" y2="498.2" stroke="#111" stroke-width="0.7"/>
<line x1="60.4" y1="496.3" x2="62.6" y2="496.3" stroke="#111" stroke-width="0.7"/>
<line x1="60.4" y1="494.6" x2="62.6" y2="494.6" stroke="#111" stroke-width="0.7"/>
<line x1="58.6" y1="493.1" x2="62.6" y2="493.1" stroke="#111" stroke-width="1.2"/>
<line x1="60.4" y1="483.2" x2="62.6" y2="483.2" stroke="#111" stroke-width="0.7"/>
<line x1="60.4" y1="477.4" x2="62.6" y2="477.4" stroke="#111" stroke-width="0.7"/>
<line x1="60.4" y1="473.3" x2="62.6" y2="473.3" stroke="#111" stroke-width="0.7"/>
<line x1="60.4" y1="470.1" x2="62.6" y2="470.1" stroke="#111" stroke-width="0.7"/>
<line x1="60.4" y1="467.5" x2="62.6" y2="467.5" stroke="#111" stroke-width="0.7"/>
<line x1="60.4" y1="465.3" x2="62.6" y2="465.3" stroke="#111" stroke-width="0.7"/>
<line x1="60.4" y1="463.4" x2="62.6" y2="463.4" stroke="#111" stroke-width="0.7"/>
<line x1="60.4" y1="461.7" x2="62.6" y2="461.7" stroke="#111" stroke-width="0.7"/>
<line x1="58.6" y1="460.2" x2="62.6" y2="460.2" stroke="#111" stroke-width="1.2"/>
<line x1="449.6" y1="722.6" x2="453.6" y2="722.6" stroke="#111" stroke-width="1.2"/>
<line x1="449.6" y1="716.5" x2="451.6" y2="716.5" stroke="#111" stroke-width="0.6"/>
<line x1="449.6" y1="713.0" x2="451.6" y2="713.0" stroke="#111" stroke-width="0.6"/>
<line x1="449.6" y1="710.5" x2="451.6" y2="710.5" stroke="#111" stroke-width="0.6"/>
<line x1="449.6" y1="708.6" x2="451.6" y2="708.6" stroke="#111" stroke-width="0.6"/>
<line x1="449.6" y1="707.0" x2="451.6" y2="707.0" stroke="#111" stroke-width="0.6"/>
<line x1="449.6" y1="705.6" x2="451.6" y2="705.6" stroke="#111" stroke-width="0.6"/>
<line x1="449.6" y1="704.4" x2="451.6" y2="704.4" stroke="#111" stroke-width="0.6"/>
<line x1="449.6" y1="703.4" x2="451.6" y2="703.4" stroke="#111" stroke-width="0.6"/>
<line x1="449.6" y1="702.5" x2="453.6" y2="702.5" stroke="#111" stroke-width="1.2"/>
<line x1="449.6" y1="696.4" x2="451.6" y2="696.4" stroke="#111" stroke-width="0.6"/>
<line x1="449.6" y1="692.9" x2="451.6" y2="692.9" stroke="#111" stroke-width="0.6"/>
<line x1="449.6" y1="690.4" x2="451.6" y2="690.4" stroke="#111" stroke-width="0.6"/>
<line x1="449.6" y1="688.5" x2="451.6" y2="688.5" stroke="#111" stroke-width="0.6"/>
<line x1="449.6" y1="686.9" x2="451.6" y2="686.9" stroke="#111" stroke-width="0.6"/>
<line x1="449.6" y1="685.5" x2="451.6" y2="685.5" stroke="#111" stroke-width="0.6"/>
<line x1="449.6" y1="684.3" x2="451.6" y2="684.3" stroke="#111" stroke-width="0.6"/>
<line x1="449.6" y1="683.3" x2="451.6" y2="683.3" stroke="#111" stroke-width="0.6"/>
<line x1="449.6" y1="682.4" x2="453.6" y2="682.4" stroke="#111" stroke-width="1.2"/>
<line x1="449.6" y1="676.3" x2="451.6" y2="676.3" stroke="#111" stroke-width="0.6"/>
<line x1="449.6" y1="672.8" x2="451.6" y2="672.8" stroke="#111" stroke-width="0.6"/>
<line x1="449.6" y1="670.3" x2="451.6" y2="670.3" stroke="#111" stroke-width="0.6"/>
<line x1="449.6" y1="668.4" x2="451.6" y2="668.4" stroke="#111" stroke-width="0.6"/>
<line x1="449.6" y1="666.8" x2="451.6" y2="666.8" stroke="#111" stroke-width="0.6"/>
<line x1="449.6" y1="665.4" x2="451.6" y2="665.4" stroke="#111" stroke-width="0.6"/>
<line x1="449.6" y1="664.2" x2="451.6" y2="664.2" stroke="#111" stroke-width="0.6"/>
<line x1="449.6" y1="663.2" x2="451.6" y2="663.2" stroke="#111" stroke-width="0.6"/>
<line x1="449.6" y1="662.3" x2="453.6" y2="662.3" stroke="#111" stroke-width="1.2"/>
<line x1="449.6" y1="656.2" x2="451.6" y2="656.2" stroke="#111" stroke-width="0.6"/>
<line x1="449.6" y1="652.7" x2="451.6" y2="652.7" stroke="#111" stroke-width="0.6"/>
<line x1="449.6" y1="650.2" x2="451.6" y2="650.2" stroke="#111" stroke-width="0.6"/>
<line x1="449.6" y1="648.3" x2="451.6" y2="648.3" stroke="#111" stroke-width="0.6"/>
<line x1="449.6" y1="646.7" x2="451.6" y2="646.7" stroke="#111" stroke-width="0.6"/>
<line x1="449.6" y1="645.3" x2="451.6" y2="645.3" stroke="#111" stroke-width="0.6"/>
<line x1="449.6" y1="644.1" x2="451.6" y2="644.1" stroke="#111" stroke-width="0.6"/>
<line x1="449.6" y1="643.1" x2="451.6" y2="643.1" stroke="#111" stroke-width="0.6"/>
<line x1="449.6" y1="642.2" x2="453.6" y2="642.2" stroke="#111" stroke-width="1.2"/>
<line x1="449.6" y1="636.1" x2="451.6" y2="636.1" stroke="#111" stroke-width="0.6"/>
<line x1="449.6" y1="632.6" x2="451.6" y2="632.6" stroke="#111" stroke-width="0.6"/>
<line x1="449.6" y1="630.1" x2="451.6" y2="630.1" stroke="#111" stroke-width="0.6"/>
<line x1="449.6" y1="628.2" x2="451.6" y2="628.2" stroke="#111" stroke-width="0.6"/>
<line x1="449.6" y1="626.6" x2="451.6" y2="626.6" stroke="#111" stroke-width="0.6"/>
<line x1="449.6" y1="625.2" x2="451.6" y2="625.2" stroke="#111" stroke-width="0.6"/>
<line x1="449.6" y1="624.0" x2="451.6" y2="624.0" stroke="#111" stroke-width="0.6"/>
<line x1="449.6" y1="623.0" x2="451.6" y2="623.0" stroke="#111" stroke-width="0.6"/>
<line x1="449.6" y1="622.1" x2="453.6" y2="622.1" stroke="#111" stroke-width="1.2"/>
<line x1="449.6" y1="616.0" x2="451.6" y2="616.0" stroke="#111" stroke-width="0.6"/>
<line x1="449.6" y1="612.5" x2="451.6" y2="612.5" stroke="#111" stroke-width="0.6"/>
<line x1="449.6" y1="610.0" x2="451.6" y2="610.0" stroke="#111" stroke-width="0.6"/>
<line x1="449.6" y1="608.1" x2="451.6" y2="608.1" stroke="#111" stroke-width="0.6"/>
<line x1="449.6" y1="606.5" x2="451.6" y2="606.5" stroke="#111" stroke-width="0.6"/>
<line x1="449.6" y1="605.1" x2="451.6" y2="605.1" stroke="#111" stroke-width="0.6"/>
<line x1="449.6" y1="603.9" x2="451.6" y2="603.9" stroke="#111" stroke-width="0.6"/>
<line x1="449.6" y1="602.9" x2="451.6" y2="602.9" stroke="#111" stroke-width="0.6"/>
<line x1="449.6" y1="602.0" x2="453.6" y2="602.0" stroke="#111" stroke-width="1.2"/>
<line x1="449.6" y1="595.9" x2="451.6" y2="595.9" stroke="#111" stroke-width="0.6"/>
<line x1="449.6" y1="592.4" x2="451.6" y2="592.4" stroke="#111" stroke-width="0.6"/>
<line x1="449.6" y1="589.9" x2="451.6" y2="589.9" stroke="#111" stroke-width="0.6"/>
<line x1="449.6" y1="588.0" x2="451.6" y2="588.0" stroke="#111" stroke-width="0.6"/>
<line x1="449.6" y1="586.4" x2="451.6" y2="586.4" stroke="#111" stroke-width="0.6"/>
<line x1="449.6" y1="585.0" x2="451.6" y2="585.0" stroke="#111" stroke-width="0.6"/>
<line x1="449.6" y1="583.8" x2="451.6" y2="583.8" stroke="#111" stroke-width="0.6"/>
<line x1="449.6" y1="582.8" x2="451.6" y2="582.8" stroke="#111" stroke-width="0.6"/>
<line x1="449.6" y1="581.9" x2="453.6" y2="581.9" stroke="#111" stroke-width="1.2"/>
<line x1="449.6" y1="575.8" x2="451.6" y2="575.8" stroke="#111" stroke-width="0.6"/>
<line x1="449.6" y1="572.3" x2="451.6" y2="572.3" stroke="#111" stroke-width="0.6"/>
<line x1="449.6" y1="569.8" x2="451.6" y2="569.8" stroke="#111" stroke-width="0.6"/>
<line x1="449.6" y1="567.9" x2="451.6" y2="567.9" stroke="#111" stroke-width="0.6"/>
<line x1="449.6" y1="566.3" x2="451.6" y2="566.3" stroke="#111" stroke-width="0.6"/>
<line x1="449.6" y1="564.9" x2="451.6" y2="564.9" stroke="#111" stroke-width="0.6"/>
<line x1="449.6" y1="563.7" x2="451.6" y2="563.7" stroke="#111" stroke-width="0.6"/>
<line x1="449.6" y1="562.7" x2="451.6" y2="562.7" stroke="#111" stroke-width="0.6"/>
<line x1="449.6" y1="561.8" x2="453.6" y2="561.8" stroke="#111" stroke-width="1.2"/>
<line x1="449.6" y1="555.7" x2="451.6" y2="555.7" stroke="#111" stroke-width="0.6"/>
<line x1="449.6" y1="552.2" x2="451.6" y2="552.2" stroke="#111" stroke-width="0.6"/>
<line x1="449.6" y1="549.7" x2="451.6" y2="549.7" stroke="#111" stroke-width="0.6"/>
<line x1="449.6" y1="547.8" x2="451.6" y2="547.8" stroke="#111" stroke-width="0.6"/>
<line x1="449.6" y1="546.2" x2="451.6" y2="546.2" stroke="#111" stroke-width="0.6"/>
<line x1="449.6" y1="544.8" x2="451.6" y2="544.8" stroke="#111" stroke-width="0.6"/>
<line x1="449.6" y1="543.6" x2="451.6" y2="543.6" stroke="#111" stroke-width="0.6"/>
<line x1="449.6" y1="542.6" x2="451.6" y2="542.6" stroke="#111" stroke-width="0.6"/>
<line x1="449.6" y1="541.7" x2="453.6" y2="541.7" stroke="#111" stroke-width="1.2"/>
<line x1="449.6" y1="535.6" x2="451.6" y2="535.6" stroke="#111" stroke-width="0.6"/>
<line x1="449.6" y1="532.1" x2="451.6" y2="532.1" stroke="#111" stroke-width="0.6"/>
<line x1="449.6" y1="529.6" x2="451.6" y2="529.6" stroke="#111" stroke-width="0.6"/>
<line x1="449.6" y1="527.7" x2="451.6" y2="527.7" stroke="#111" stroke-width="0.6"/>
<line x1="449.6" y1="526.1" x2="451.6" y2="526.1" stroke="#111" stroke-width="0.6"/>
<line x1="449.6" y1="524.7" x2="451.6" y2="524.7" stroke="#111" stroke-width="0.6"/>
<line x1="449.6" y1="523.5" x2="451.6" y2="523.5" stroke="#111" stroke-width="0.6"/>
<line x1="449.6" y1="522.5" x2="451.6" y2="522.5" stroke="#111" stroke-width="0.6"/>
<line x1="449.6" y1="521.6" x2="453.6" y2="521.6" stroke="#111" stroke-width="1.2"/>
<line x1="449.6" y1="515.5" x2="451.6" y2="515.5" stroke="#111" stroke-width="0.6"/>
<line x1="449.6" y1="512.0" x2="451.6" y2="512.0" stroke="#111" stroke-width="0.6"/>
<line x1="449.6" y1="509.5" x2="451.6" y2="509.5" stroke="#111" stroke-width="0.6"/>
<line x1="449.6" y1="507.6" x2="451.6" y2="507.6" stroke="#111" stroke-width="0.6"/>
<line x1="449.6" y1="506.0" x2="451.6" y2="506.0" stroke="#111" stroke-width="0.6"/>
<line x1="449.6" y1="504.6" x2="451.6" y2="504.6" stroke="#111" stroke-width="0.6"/>
<line x1="449.6" y1="503.4" x2="451.6" y2="503.4" stroke="#111" stroke-width="0.6"/>
<line x1="449.6" y1="502.4" x2="451.6" y2="502.4" stroke="#111" stroke-width="0.6"/>
<line x1="449.6" y1="501.5" x2="453.6" y2="501.5" stroke="#111" stroke-width="1.2"/>
<line x1="449.6" y1="495.4" x2="451.6" y2="495.4" stroke="#111" stroke-width="0.6"/>
<line x1="449.6" y1="491.9" x2="451.6" y2="491.9" stroke="#111" stroke-width="0.6"/>
<line x1="449.6" y1="489.4" x2="451.6" y2="489.4" stroke="#111" stroke-width="0.6"/>
<line x1="449.6" y1="487.5" x2="451.6" y2="487.5" stroke="#111" stroke-width="0.6"/>
<line x1="449.6" y1="485.9" x2="451.6" y2="485.9" stroke="#111" stroke-width="0.6"/>
<line x1="449.6" y1="484.5" x2="451.6" y2="484.5" stroke="#111" stroke-width="0.6"/>
<line x1="449.6" y1="483.3" x2="451.6" y2="483.3" stroke="#111" stroke-width="0.6"/>
<line x1="449.6" y1="482.3" x2="451.6" y2="482.3" stroke="#111" stroke-width="0.6"/>
<line x1="449.6" y1="481.4" x2="453.6" y2="481.4" stroke="#111" stroke-width="1.2"/>
<line x1="449.6" y1="475.3" x2="451.6" y2="475.3" stroke="#111" stroke-width="0.6"/>
<line x1="449.6" y1="471.8" x2="451.6" y2="471.8" stroke="#111" stroke-width="0.6"/>
<line x1="449.6" y1="469.3" x2="451.6" y2="469.3" stroke="#111" stroke-width="0.6"/>
<line x1="449.6" y1="467.4" x2="451.6" y2="467.4" stroke="#111" stroke-width="0.6"/>
<line x1="449.6" y1="465.8" x2="451.6" y2="465.8" stroke="#111" stroke-width="0.6"/>
<line x1="449.6" y1="464.4" x2="451.6" y2="464.4" stroke="#111" stroke-width="0.6"/>
<line x1="449.6" y1="463.2" x2="451.6" y2="463.2" stroke="#111" stroke-width="0.6"/>
<line x1="449.6" y1="462.2" x2="451.6" y2="462.2" stroke="#111" stroke-width="0.6"/>
<line x1="449.6" y1="461.3" x2="453.6" y2="461.3" stroke="#111" stroke-width="1.2"/>
<line x1="449.6" y1="455.2" x2="451.6" y2="455.2" stroke="#111" stroke-width="0.6"/>
<line x1="449.6" y1="451.7" x2="451.6" y2="451.7" stroke="#111" stroke-width="0.6"/>
<line x1="449.6" y1="449.2" x2="451.6" y2="449.2" stroke="#111" stroke-width="0.6"/>
<line x1="449.6" y1="447.3" x2="451.6" y2="447.3" stroke="#111" stroke-width="0.6"/>
<line x1="449.6" y1="445.7" x2="451.6" y2="445.7" stroke="#111" stroke-width="0.6"/>
<line x1="449.6" y1="444.3" x2="451.6" y2="444.3" stroke="#111" stroke-width="0.6"/>
<line x1="449.6" y1="443.1" x2="451.6" y2="443.1" stroke="#111" stroke-width="0.6"/>
<line x1="449.6" y1="442.1" x2="451.6" y2="442.1" stroke="#111" stroke-width="0.6"/>
<line x1="449.6" y1="441.2" x2="453.6" y2="441.2" stroke="#111" stroke-width="1.2"/>
<text x="46.9" y="463.6" font-size="11.6" fill="#e06470" text-anchor="end" textLength="11.9" lengthAdjust="spacingAndGlyphs" font-family="Liberation Sans, sans-serif">10</text>
<text x="51.6" y="458.1" font-size="7.6" fill="#e06470" text-anchor="end" font-family="Liberation Sans, sans-serif">4</text>
<text x="46.9" y="529.4" font-size="11.6" fill="#e06470" text-anchor="end" textLength="11.9" lengthAdjust="spacingAndGlyphs" font-family="Liberation Sans, sans-serif">10</text>
<text x="51.6" y="523.9" font-size="7.6" fill="#e06470" text-anchor="end" font-family="Liberation Sans, sans-serif">2</text>
<text x="46.9" y="595.2" font-size="11.6" fill="#e06470" text-anchor="end" textLength="11.9" lengthAdjust="spacingAndGlyphs" font-family="Liberation Sans, sans-serif">10</text>
<text x="51.6" y="589.7" font-size="7.6" fill="#e06470" text-anchor="end" font-family="Liberation Sans, sans-serif">0</text>
<text x="43.7" y="661.0" font-size="11.6" fill="#e06470" text-anchor="end" textLength="11.9" lengthAdjust="spacingAndGlyphs" font-family="Liberation Sans, sans-serif">10</text>
<text x="51.6" y="655.5" font-size="7.6" fill="#e06470" text-anchor="end" font-family="Liberation Sans, sans-serif">−2</text>
<text x="43.7" y="726.8" font-size="11.6" fill="#e06470" text-anchor="end" textLength="11.9" lengthAdjust="spacingAndGlyphs" font-family="Liberation Sans, sans-serif">10</text>
<text x="51.6" y="721.3" font-size="7.6" fill="#e06470" text-anchor="end" font-family="Liberation Sans, sans-serif">−4</text>
<text x="461" y="444.4" font-size="11" fill="#4848e0" textLength="11" lengthAdjust="spacingAndGlyphs" font-family="Liberation Sans, sans-serif">10</text>
<text x="472.3" y="439.1" font-size="7" fill="#4848e0" font-family="Liberation Sans, sans-serif">17</text>
<text x="461" y="484.6" font-size="11" fill="#4848e0" textLength="11" lengthAdjust="spacingAndGlyphs" font-family="Liberation Sans, sans-serif">10</text>
<text x="472.3" y="479.3" font-size="7" fill="#4848e0" font-family="Liberation Sans, sans-serif">15</text>
<text x="461" y="524.8" font-size="11" fill="#4848e0" textLength="11" lengthAdjust="spacingAndGlyphs" font-family="Liberation Sans, sans-serif">10</text>
<text x="472.3" y="519.5" font-size="7" fill="#4848e0" font-family="Liberation Sans, sans-serif">13</text>
<text x="461" y="565.0" font-size="11" fill="#4848e0" textLength="11" lengthAdjust="spacingAndGlyphs" font-family="Liberation Sans, sans-serif">10</text>
<text x="472.3" y="559.7" font-size="7" fill="#4848e0" font-family="Liberation Sans, sans-serif">11</text>
<text x="461" y="605.2" font-size="11" fill="#4848e0" textLength="11" lengthAdjust="spacingAndGlyphs" font-family="Liberation Sans, sans-serif">10</text>
<text x="472.3" y="599.9" font-size="7" fill="#4848e0" font-family="Liberation Sans, sans-serif">9</text>
<text x="461" y="645.4" font-size="11" fill="#4848e0" textLength="11" lengthAdjust="spacingAndGlyphs" font-family="Liberation Sans, sans-serif">10</text>
<text x="472.3" y="640.1" font-size="7" fill="#4848e0" font-family="Liberation Sans, sans-serif">7</text>
<text x="461" y="685.6" font-size="11" fill="#4848e0" textLength="11" lengthAdjust="spacingAndGlyphs" font-family="Liberation Sans, sans-serif">10</text>
<text x="472.3" y="680.3" font-size="7" fill="#4848e0" font-family="Liberation Sans, sans-serif">5</text>
<text x="461" y="725.8" font-size="11" fill="#4848e0" textLength="11" lengthAdjust="spacingAndGlyphs" font-family="Liberation Sans, sans-serif">10</text>
<text x="472.3" y="720.5" font-size="7" fill="#4848e0" font-family="Liberation Sans, sans-serif">3</text>
<text transform="translate(16.6,581.8) rotate(-90)" font-size="12.4" fill="#e0585a" text-anchor="middle" textLength="112" lengthAdjust="spacingAndGlyphs" font-family="Liberation Sans, sans-serif">Responsivity (A W<tspan font-size="8" dy="-4">−1</tspan><tspan dy="4">)</tspan></text>
<text transform="translate(494.7,580.3) rotate(90)" font-size="12.6" fill="#3b3bdc" text-anchor="middle" textLength="105.3" lengthAdjust="spacingAndGlyphs" font-family="Liberation Sans, sans-serif">Detectivity (Jones)</text>
<text transform="translate(77.6,435.5) rotate(-42)" font-size="12" fill="#333" font-family="Liberation Sans, sans-serif">In<tspan font-size="8.5" dy="2.5">2</tspan><tspan dy="-2.5">S</tspan><tspan font-size="8.5" dy="2.5">3</tspan></text>
<text transform="translate(106.9,431.5) rotate(-42)" font-size="12" fill="#333" font-family="Liberation Sans, sans-serif">In<tspan font-size="8.5" dy="2.5">2</tspan><tspan dy="-2.5">S</tspan><tspan font-size="8.5" dy="2.5">3</tspan> on</text>
<text transform="translate(124.4,435.5) rotate(-42)" font-size="12" fill="#333" font-family="Liberation Sans, sans-serif">TMD</text>
<text transform="translate(141.3,435.5) rotate(-42)" font-size="12" fill="#333" font-family="Liberation Sans, sans-serif">In<tspan font-size="8.5" dy="2.5">2</tspan><tspan dy="-2.5">S</tspan><tspan font-size="8.5" dy="2.5">3</tspan></text>
<text transform="translate(168.7,435.5) rotate(-42)" font-size="12" fill="#333" font-family="Liberation Sans, sans-serif">In<tspan font-size="8.5" dy="2.5">2</tspan><tspan dy="-2.5">S</tspan><tspan font-size="8.5" dy="2.5">3</tspan></text>
<text transform="translate(191.2,435.5) rotate(-42)" font-size="12" fill="#333" font-family="Liberation Sans, sans-serif">In<tspan font-size="8.5" dy="2.5">2</tspan><tspan dy="-2.5">S</tspan><tspan font-size="8.5" dy="2.5">3</tspan></text>
<text transform="translate(214.3,435.5) rotate(-42)" font-size="12" fill="#333" font-family="Liberation Sans, sans-serif">In<tspan font-size="8.5" dy="2.5">2</tspan><tspan dy="-2.5">S</tspan><tspan font-size="8.5" dy="2.5">3</tspan></text>
<text transform="translate(241.2,435.5) rotate(-42)" font-size="12" fill="#333" font-family="Liberation Sans, sans-serif">In<tspan font-size="8.5" dy="2.5">2</tspan><tspan dy="-2.5">S</tspan><tspan font-size="8.5" dy="2.5">3</tspan></text>
<text transform="translate(268.6,435.5) rotate(-42)" font-size="12" fill="#333" font-family="Liberation Sans, sans-serif">G-In<tspan font-size="8.5" dy="2.5">2</tspan><tspan dy="-2.5">S</tspan><tspan font-size="8.5" dy="2.5">3</tspan></text>
<text transform="translate(295.6,435.5) rotate(-42)" font-size="12" fill="#333" font-family="Liberation Sans, sans-serif">Si-In<tspan font-size="8.5" dy="2.5">2</tspan><tspan dy="-2.5">S</tspan><tspan font-size="8.5" dy="2.5">3</tspan></text>
<text transform="translate(322.6,435.5) rotate(-42)" font-size="12" fill="#333" font-family="Liberation Sans, sans-serif">Si-In<tspan font-size="8.5" dy="2.5">2</tspan><tspan dy="-2.5">S</tspan><tspan font-size="8.5" dy="2.5">3</tspan></text>
<text transform="translate(349.8,435.5) rotate(-42)" font-size="12" fill="#333" font-family="Liberation Sans, sans-serif">G-In<tspan font-size="8.5" dy="2.5">2</tspan><tspan dy="-2.5">S</tspan><tspan font-size="8.5" dy="2.5">3</tspan></text>
<text transform="translate(377.2,435.5) rotate(-42)" font-size="12" fill="#333" font-family="Liberation Sans, sans-serif">Si-In<tspan font-size="8.5" dy="2.5">2</tspan><tspan dy="-2.5">S</tspan><tspan font-size="8.5" dy="2.5">3</tspan></text>
<text transform="translate(404.2,435.5) rotate(-42)" font-size="12" fill="#333" font-family="Liberation Sans, sans-serif">Si-In<tspan font-size="8.5" dy="2.5">2</tspan><tspan dy="-2.5">S</tspan><tspan font-size="8.5" dy="2.5">3</tspan></text>
<text transform="translate(431.8,435.5) rotate(-42)" font-size="12" fill="#333" font-family="Liberation Sans, sans-serif">Te-In<tspan font-size="8.5" dy="2.5">2</tspan><tspan dy="-2.5">S</tspan><tspan font-size="8.5" dy="2.5">3</tspan></text>
<text x="71.8" y="386.6" font-size="12.4" fill="#333" textLength="53.4" lengthAdjust="spacingAndGlyphs" font-family="Liberation Sans, sans-serif">This work</text>
<path d="M80.8,405.5 Q80.5,399.5 86,399.5 L94,399.5 Q98.5,399.5 98.7,394.5 Q98.9,399.5 103.4,399.5 L111,399.5 Q116.5,399.5 116.2,405.5" fill="none" stroke="#111" stroke-width="2.2"/>
<text x="82" y="740.5" font-size="13" fill="#222" textLength="22" lengthAdjust="spacingAndGlyphs" font-family="Liberation Sans, sans-serif">280</text>
<line x1="124.5" y1="722.8" x2="124.5" y2="728.5" stroke="#111" stroke-width="1.2"/>
<path d="M250,736 L139,736 Q134,736 130,733" fill="none" stroke="#111" stroke-width="1.6"/>
<polygon points="125.2,729.6 133.6,731 129.8,735.6" fill="#111"/>
<path d="M323,736 L436,736 Q440,736 443.5,733" fill="none" stroke="#111" stroke-width="1.6"/>
<polygon points="448.2,729.6 444.8,735.6 440.6,731.5" fill="#111"/>
<text x="253.7" y="740" font-size="12.5" fill="#222" textLength="66.2" lengthAdjust="spacingAndGlyphs" font-family="Liberation Sans, sans-serif">~700–1,000</text>
<text x="184.1" y="760.7" font-size="13" fill="#222" textLength="143.1" lengthAdjust="spacingAndGlyphs" font-family="Liberation Sans, sans-serif">Growth temperature (°C)</text>
<defs>
<pattern id="pBlue" patternUnits="userSpaceOnUse" width="3.4" height="6.4"><rect x="0.2" y="0.6" width="1.9" height="1" fill="#b4cff2" fill-opacity="0.7"/><rect x="1.9" y="3.8" width="1.9" height="1" fill="#b4cff2" fill-opacity="0.7"/><rect x="0" y="2.2" width="3.4" height="0.6" fill="#5a86c8" fill-opacity="0.5"/></pattern>
<pattern id="pPurp" patternUnits="userSpaceOnUse" width="4" height="6.8"><circle cx="1" cy="1.2" r="0.85" fill="#dc90c4" fill-opacity="0.75"/><circle cx="3" cy="4.6" r="0.85" fill="#dc90c4" fill-opacity="0.75"/></pattern>
<pattern id="pRed" patternUnits="userSpaceOnUse" width="3.6" height="6.2"><circle cx="0.9" cy="1.1" r="0.85" fill="#e89a8a" fill-opacity="0.7"/><circle cx="2.7" cy="4.2" r="0.85" fill="#e89a8a" fill-opacity="0.7"/></pattern>
<pattern id="pBlue2" patternUnits="userSpaceOnUse" width="5.2" height="9.2" patternTransform="rotate(-6)"><circle cx="1.3" cy="2.3" r="1.35" fill="#d4d4ff"/><circle cx="3.9" cy="6.9" r="1.35" fill="#d4d4ff"/><circle cx="3.6" cy="3.4" r="0.9" fill="#8a8ae8"/><circle cx="1" cy="8" r="0.9" fill="#8a8ae8"/></pattern><filter id="fSoft" x="-5%" y="-5%" width="110%" height="110%"><feGaussianBlur stdDeviation="0.45"/></filter>
<pattern id="pPurp2" patternUnits="userSpaceOnUse" width="5.4" height="9.4" patternTransform="rotate(-6)"><circle cx="1.35" cy="2.35" r="1.3" fill="#ff9ad8"/><circle cx="4.05" cy="7.05" r="1.3" fill="#ff9ad8"/><circle cx="3.7" cy="3.5" r="0.85" fill="#c04a90"/><circle cx="1" cy="8.1" r="0.85" fill="#c04a90"/></pattern>
<pattern id="pRed2" patternUnits="userSpaceOnUse" width="8" height="6.8" patternTransform="rotate(34)"><ellipse cx="4" cy="1.7" rx="3.1" ry="1.45" fill="#b83232"/><ellipse cx="0" cy="5.1" rx="3.1" ry="1.45" fill="#b83232"/><ellipse cx="8" cy="5.1" rx="3.1" ry="1.45" fill="#b83232"/><ellipse cx="3.6" cy="1.5" rx="1.5" ry="0.8" fill="#f29090"/><ellipse cx="-0.4" cy="4.9" rx="1.5" ry="0.8" fill="#f29090"/><ellipse cx="7.6" cy="4.9" rx="1.5" ry="0.8" fill="#f29090"/></pattern>
<radialGradient id="gDiff"><stop offset="0" stop-color="#000"/><stop offset="0.22" stop-color="#000"/><stop offset="0.26" stop-color="#6a6a6a"/><stop offset="0.34" stop-color="#bcbcbc"/><stop offset="0.5" stop-color="#e0e0e0"/><stop offset="0.72" stop-color="#f2f2f2"/><stop offset="1" stop-color="#fafafa" stop-opacity="0"/></radialGradient>
<radialGradient id="gDiff2"><stop offset="0" stop-color="#000"/><stop offset="0.17" stop-color="#000"/><stop offset="0.21" stop-color="#808080"/><stop offset="0.29" stop-color="#c8c8c8"/><stop offset="0.45" stop-color="#e4e4e4"/><stop offset="1" stop-color="#f2f2f2" stop-opacity="0"/></radialGradient>
<pattern id="pLayer" patternUnits="userSpaceOnUse" width="2" height="4.37" y="209.3"><rect x="0" y="0" width="1.3" height="1.4" fill="#a8a8a8"/><rect x="1.3" y="0.2" width="0.7" height="1" fill="#5a5a5a"/><rect x="0" y="2.2" width="2" height="0.6" fill="#2a2a2a"/></pattern>
<pattern id="pGreen" patternUnits="userSpaceOnUse" width="7" height="4.37" y="209.3"><rect x="0.2" y="0.2" width="2" height="1.6" fill="#4ad84a"/><rect x="2.9" y="0.4" width="1.7" height="1.4" fill="#38c038"/><rect x="5" y="0.1" width="1.7" height="1.5" fill="#44cc44"/><rect x="1.4" y="2.4" width="1.4" height="1.2" fill="#26a026"/><rect x="4.2" y="2.6" width="1.3" height="1.2" fill="#2aa82a"/></pattern>
<linearGradient id="gAl" x1="0" y1="0" x2="0" y2="1"><stop offset="0" stop-color="#000"/><stop offset="0.58" stop-color="#000006"/><stop offset="0.66" stop-color="#08084a"/><stop offset="0.74" stop-color="#12129a"/><stop offset="1" stop-color="#1616aa"/></linearGradient>
<radialGradient id="gBlob" cy="0.45"><stop offset="0" stop-color="#fff"/><stop offset="0.35" stop-color="#e8e8e8"/><stop offset="0.7" stop-color="#777" stop-opacity="0.7"/><stop offset="1" stop-color="#000" stop-opacity="0"/></radialGradient>
<radialGradient id="gBlob2" cy="0.45"><stop offset="0" stop-color="#d0d0d0"/><stop offset="0.4" stop-color="#9a9a9a"/><stop offset="1" stop-color="#000" stop-opacity="0"/></radialGradient>
</defs>
<rect x="564.3" y="13.8" width="129.5" height="97.2" fill="#1d4886"/>
<rect x="564.3" y="13.8" width="129.5" height="97.2" fill="url(#pBlue)"/>
<rect x="566.8" y="106.4" width="21" height="2.2" fill="#f0f0f0"/>
<rect x="706.6" y="13.6" width="131.3" height="96.4" fill="#5e1549"/>
<rect x="706.6" y="13.6" width="131.3" height="96.4" fill="url(#pPurp)"/>
<rect x="709.1" y="105.4" width="21" height="2.2" fill="#f0f0f0"/>
<rect x="851.1" y="13.6" width="130.2" height="96.5" fill="#922626"/>
<rect x="851.1" y="13.6" width="130.2" height="96.5" fill="url(#pRed)"/>
<rect x="853.6" y="105.5" width="21" height="2.2" fill="#f0f0f0"/>
<polygon points="611.3,40.5 634,40.5 644.6,60.8 622.7,60.8" fill="none" stroke="#a8c43c" stroke-width="1"/>
<text x="618.7" y="70" font-size="7.2" fill="#c8d4e8" textLength="32" lengthAdjust="spacingAndGlyphs" font-family="Liberation Sans, sans-serif">L = 1.8 nm</text>
<text x="691.2" y="23.4" font-size="8" fill="#b8c8e2" text-anchor="end" font-style="italic" textLength="32.4" lengthAdjust="spacingAndGlyphs" font-family="Liberation Sans, sans-serif">Bi<tspan font-size="5.5" dy="1.5">2</tspan><tspan dy="-1.5">S</tspan><tspan font-size="5.5" dy="1.5">3</tspan><tspan dy="-1.5">/WS</tspan><tspan font-size="5.5" dy="1.5">2</tspan></text>
<polygon points="760.7,37.6 783.3,37.6 793.8,55.1 768.8,55.1" fill="none" stroke="#e0a020" stroke-width="1.2"/>
<text x="765" y="63.8" font-size="6.6" fill="#f3d9ea" font-family="Liberation Sans, sans-serif">L = 1.9 nm</text>
<text x="836" y="23.4" font-size="8" fill="#e8c8dc" text-anchor="end" font-style="italic" textLength="36" lengthAdjust="spacingAndGlyphs" font-family="Liberation Sans, sans-serif">SnSe<tspan font-size="5.5" dy="1.5">2</tspan><tspan dy="-1.5">/WS</tspan><tspan font-size="5.5" dy="1.5">2</tspan></text>
<polygon points="911.2,34.6 929.2,34.6 934.4,48.8 916.3,48.8" fill="none" stroke="#e0a020" stroke-width="1.2"/>
<text x="911" y="57" font-size="6.6" fill="#f6d8d0" font-family="Liberation Sans, sans-serif">L = 3.3 nm</text>
<text x="979" y="23.4" font-size="8" fill="#ecc8c4" text-anchor="end" font-style="italic" textLength="34" lengthAdjust="spacingAndGlyphs" font-family="Liberation Sans, sans-serif">Bi<tspan font-size="5.5" dy="1.5">2</tspan><tspan dy="-1.5">Te</tspan><tspan font-size="5.5" dy="1.5">3</tspan><tspan dy="-1.5">/WS</tspan><tspan font-size="5.5" dy="1.5">2</tspan></text>
<rect x="564.3" y="130.4" width="65.5" height="66" fill="#2a2a86"/>
<rect x="564.3" y="130.4" width="65.5" height="66" fill="url(#pBlue2)" filter="url(#fSoft)"/>
<rect x="565.8" y="192.4" width="18.5" height="2.2" fill="#f2f2f2"/>
<rect x="706.4" y="130.2" width="66.3" height="66" fill="#4a0a34"/>
<rect x="706.4" y="130.2" width="66.3" height="66" fill="url(#pPurp2)" filter="url(#fSoft)"/>
<rect x="707.9" y="192.2" width="18.5" height="2.2" fill="#f2f2f2"/>
<rect x="850.6" y="130.2" width="66" height="66" fill="#220303"/>
<rect x="850.6" y="130.2" width="66" height="66" fill="url(#pRed2)" filter="url(#fSoft)"/>
<rect x="852.1" y="192.2" width="18.5" height="2.2" fill="#f2f2f2"/>
<polygon points="572.7,148 608,148 623.5,181.3 589.3,181.3" fill="none" stroke="#a8b848" stroke-width="1.3"/>
<polygon points="715.5,145 752,145 767,175.5 730.5,175.5" fill="none" stroke="#e0a030" stroke-width="1.3"/>
<polygon points="859.5,149.5 889,149.5 907,178.5 877.5,178.5" fill="none" stroke="#e0a020" stroke-width="1.3"/>
<rect x="635" y="130.4" width="59" height="66.2" fill="#ffffff"/>
<circle cx="662.2" cy="163.6" r="27" fill="url(#gDiff)"/>
<rect x="677" y="192.2" width="16" height="2.4" fill="#000"/>
<rect x="774.5" y="130.2" width="63.8" height="66" fill="#f0f0f0"/>
<circle cx="805.6" cy="163.8" r="27" fill="url(#gDiff2)"/>
<rect x="821.3" y="192.0" width="16" height="2.4" fill="#000"/>
<rect x="918" y="130.2" width="65.5" height="66" fill="#f5f5f5"/>
<circle cx="949" cy="164.1" r="27" fill="url(#gDiff2)"/>
<rect x="966.5" y="192.0" width="16" height="2.4" fill="#000"/>
<polygon points="660.8,133.5 687.0,146.9 688.6,176.4 663.8,192.5 637.6,179.1 636.0,149.6" fill="none" stroke="#e8907a" stroke-width="0.9"/>
<polygon points="659.5,139.0 681.6,148.4 684.5,172.2 665.3,186.6 643.2,177.2 640.3,153.4" fill="none" stroke="#5a78d0" stroke-width="0.9"/>
<polygon points="794.3,134.5 825.0,138.8 836.6,167.5 817.5,191.9 786.8,187.6 775.2,158.9" fill="none" stroke="#e8907a" stroke-width="0.9"/>
<polygon points="796.5,140.0 821.3,143.5 830.7,166.7 815.3,186.4 790.5,182.9 781.1,159.7" fill="none" stroke="#e8907a" stroke-width="0.9"/>
<polygon points="979.5,164.1 964.2,190.5 933.8,190.5 918.5,164.1 933.8,137.7 964.2,137.7" fill="none" stroke="#e8907a" stroke-width="0.9"/>
<polygon points="971.7,164.1 960.4,183.8 937.6,183.8 926.3,164.1 937.6,144.4 960.4,144.4" fill="none" stroke="#e8a090" stroke-width="0.9"/>
<rect x="563.5" y="208.4" width="126.4" height="85.8" fill="#0a0a0a"/>
<rect x="563.5" y="208.4" width="126.4" height="56" fill="url(#pLayer)"/>
<line x1="563.5" y1="265.9" x2="689.9" y2="265.9" stroke="#fff" stroke-width="1.1" stroke-dasharray="1.6 1"/>
<rect x="597.4" y="225" width="52.3" height="64.6" fill="none" stroke="#eee" stroke-width="0.9" stroke-dasharray="2.2 1.3"/>
<line x1="566" y1="269.5" x2="660" y2="269.5" stroke="#3a3a3a" stroke-width="1" stroke-dasharray="1.2 1"/>
<text x="684" y="217" font-size="8.6" font-weight="bold" fill="#d8d8d8" text-anchor="end" font-family="Liberation Sans, sans-serif">SnS<tspan font-size="5.5" dy="1.8">2</tspan></text>
<text x="683" y="274.5" font-size="8.8" font-weight="bold" fill="#f0f0f0" text-anchor="end" font-family="Liberation Sans, sans-serif">WS<tspan font-size="5.5" dy="1.8">2</tspan></text>
<text x="658.6" y="291.6" font-size="8.6" font-weight="bold" fill="#f0f0f0" textLength="30.4" lengthAdjust="spacingAndGlyphs" font-family="Liberation Sans, sans-serif">Sapphire</text>
<rect x="565" y="290.3" width="13.4" height="2" fill="#eee"/>
<rect x="691.4" y="208.4" width="69.8" height="85.8" fill="#000"/>
<rect x="691.4" y="262.8" width="69.8" height="2.2" fill="#c8141c"/>
<rect x="691.4" y="261.6" width="69.8" height="4.6" fill="#c8141c" fill-opacity="0.3"/>
<text x="759.5" y="292" font-size="8.2" font-weight="bold" fill="#f0f0f0" text-anchor="end" font-family="Liberation Sans, sans-serif">W</text>
<rect x="763.5" y="208.4" width="70.5" height="85.8" fill="#000"/>
<rect x="763.5" y="209" width="70.5" height="51.5" fill="url(#pGreen)"/>
<text x="832.6" y="292" font-size="8.2" font-weight="bold" fill="#f0f0f0" text-anchor="end" font-family="Liberation Sans, sans-serif">Sn</text>
<rect x="835.9" y="208.4" width="69.5" height="85.8" fill="url(#gAl)"/>
<text x="904" y="292" font-size="8.2" font-weight="bold" fill="#f0f0f0" text-anchor="end" font-family="Liberation Sans, sans-serif">Al</text>
<rect x="907.9" y="208.4" width="70.6" height="85.8" fill="url(#gAl)"/>
<rect x="907.9" y="209" width="70.6" height="51.5" fill="url(#pGreen)"/>
<rect x="907.9" y="262.4" width="70.6" height="3" fill="#d81818"/>
<rect x="907.9" y="265.4" width="70.6" height="28.8" fill="#1818b0" fill-opacity="0.6"/>
<text x="976.5" y="292" font-size="8.2" font-weight="bold" fill="#f0f0f0" text-anchor="end" textLength="26.3" lengthAdjust="spacingAndGlyphs" font-family="Liberation Sans, sans-serif">Overlay</text>
<rect x="563.5" y="297.8" width="321.8" height="97" fill="#080808"/>
<defs><linearGradient id="gRow1" x1="0" y1="0" x2="0" y2="1"><stop offset="0" stop-color="#333" stop-opacity="0"/><stop offset="0.5" stop-color="#4a4a4a"/><stop offset="1" stop-color="#333" stop-opacity="0"/></linearGradient></defs>
<rect x="563.5" y="302" width="321.8" height="25" fill="url(#gRow1)"/>
<rect x="563.5" y="330" width="321.8" height="25" fill="url(#gRow1)"/>
<rect x="563.5" y="361" width="321.8" height="27" fill="url(#gRow1)"/>
<ellipse cx="570.5" cy="315.8" rx="6.4" ry="11" fill="url(#gBlob2)"/>
<ellipse cx="584.4" cy="315.8" rx="6.4" ry="11" fill="url(#gBlob2)"/>
<ellipse cx="598.3" cy="315.8" rx="6.4" ry="11" fill="url(#gBlob2)"/>
<ellipse cx="612.2" cy="315.8" rx="6.4" ry="11" fill="url(#gBlob2)"/>
<ellipse cx="626.1" cy="315.8" rx="6.4" ry="11" fill="url(#gBlob2)"/>
<ellipse cx="640.0" cy="315.8" rx="6.4" ry="11" fill="url(#gBlob2)"/>
<ellipse cx="653.9" cy="315.8" rx="6.4" ry="11" fill="url(#gBlob2)"/>
<ellipse cx="667.8" cy="315.8" rx="6.4" ry="11" fill="url(#gBlob2)"/>
<ellipse cx="681.7" cy="315.8" rx="6.4" ry="11" fill="url(#gBlob2)"/>
<ellipse cx="695.6" cy="315.8" rx="6.4" ry="11" fill="url(#gBlob2)"/>
<ellipse cx="709.5" cy="315.8" rx="6.4" ry="11" fill="url(#gBlob2)"/>
<ellipse cx="723.4" cy="315.8" rx="6.4" ry="11" fill="url(#gBlob2)"/>
<ellipse cx="737.3" cy="315.8" rx="6.4" ry="11" fill="url(#gBlob2)"/>
<ellipse cx="751.2" cy="315.8" rx="6.4" ry="11" fill="url(#gBlob2)"/>
<ellipse cx="765.1" cy="315.8" rx="6.4" ry="11" fill="url(#gBlob2)"/>
<ellipse cx="779.0" cy="315.8" rx="6.4" ry="11" fill="url(#gBlob2)"/>
<ellipse cx="792.9" cy="315.8" rx="6.4" ry="11" fill="url(#gBlob2)"/>
<ellipse cx="806.8" cy="315.8" rx="6.4" ry="11" fill="url(#gBlob2)"/>
<ellipse cx="820.7" cy="315.8" rx="6.4" ry="11" fill="url(#gBlob2)"/>
<ellipse cx="834.6" cy="315.8" rx="6.4" ry="11" fill="url(#gBlob2)"/>
<ellipse cx="848.5" cy="315.8" rx="6.4" ry="11" fill="url(#gBlob2)"/>
<ellipse cx="862.4" cy="315.8" rx="6.4" ry="11" fill="url(#gBlob2)"/>
<ellipse cx="876.3" cy="315.8" rx="6.4" ry="11" fill="url(#gBlob2)"/>
<ellipse cx="570.5" cy="343.6" rx="6.4" ry="11" fill="url(#gBlob2)"/>
<ellipse cx="584.4" cy="343.6" rx="6.4" ry="11" fill="url(#gBlob2)"/>
<ellipse cx="598.3" cy="343.6" rx="6.4" ry="11" fill="url(#gBlob2)"/>
<ellipse cx="612.2" cy="343.6" rx="6.4" ry="11" fill="url(#gBlob2)"/>
<ellipse cx="626.1" cy="343.6" rx="6.4" ry="11" fill="url(#gBlob2)"/>
<ellipse cx="640.0" cy="343.6" rx="6.4" ry="11" fill="url(#gBlob2)"/>
<ellipse cx="653.9" cy="343.6" rx="6.4" ry="11" fill="url(#gBlob2)"/>
<ellipse cx="667.8" cy="343.6" rx="6.4" ry="11" fill="url(#gBlob2)"/>
<ellipse cx="681.7" cy="343.6" rx="6.4" ry="11" fill="url(#gBlob2)"/>
<ellipse cx="695.6" cy="343.6" rx="6.4" ry="11" fill="url(#gBlob2)"/>
<ellipse cx="709.5" cy="343.6" rx="6.4" ry="11" fill="url(#gBlob2)"/>
<ellipse cx="723.4" cy="343.6" rx="6.4" ry="11" fill="url(#gBlob2)"/>
<ellipse cx="737.3" cy="343.6" rx="6.4" ry="11" fill="url(#gBlob2)"/>
<ellipse cx="751.2" cy="343.6" rx="6.4" ry="11" fill="url(#gBlob2)"/>
<ellipse cx="765.1" cy="343.6" rx="6.4" ry="11" fill="url(#gBlob2)"/>
<ellipse cx="779.0" cy="343.6" rx="6.4" ry="11" fill="url(#gBlob2)"/>
<ellipse cx="792.9" cy="343.6" rx="6.4" ry="11" fill="url(#gBlob2)"/>
<ellipse cx="806.8" cy="343.6" rx="6.4" ry="11" fill="url(#gBlob2)"/>
<ellipse cx="820.7" cy="343.6" rx="6.4" ry="11" fill="url(#gBlob2)"/>
<ellipse cx="834.6" cy="343.6" rx="6.4" ry="11" fill="url(#gBlob2)"/>
<ellipse cx="848.5" cy="343.6" rx="6.4" ry="11" fill="url(#gBlob2)"/>
<ellipse cx="862.4" cy="343.6" rx="6.4" ry="11" fill="url(#gBlob2)"/>
<ellipse cx="876.3" cy="343.6" rx="6.4" ry="11" fill="url(#gBlob2)"/>
<ellipse cx="570.5" cy="374.6" rx="7" ry="11.5" fill="url(#gBlob)"/>
<ellipse cx="584.4" cy="374.6" rx="7" ry="11.5" fill="url(#gBlob)"/>
<ellipse cx="598.3" cy="374.6" rx="7" ry="11.5" fill="url(#gBlob)"/>
<ellipse cx="612.2" cy="374.6" rx="7" ry="11.5" fill="url(#gBlob)"/>
<ellipse cx="626.1" cy="374.6" rx="7" ry="11.5" fill="url(#gBlob)"/>
<ellipse cx="640.0" cy="374.6" rx="7" ry="11.5" fill="url(#gBlob)"/>
<ellipse cx="653.9" cy="374.6" rx="7" ry="11.5" fill="url(#gBlob)"/>
<ellipse cx="667.8" cy="374.6" rx="7" ry="11.5" fill="url(#gBlob)"/>
<ellipse cx="681.7" cy="374.6" rx="7" ry="11.5" fill="url(#gBlob)"/>
<ellipse cx="695.6" cy="374.6" rx="7" ry="11.5" fill="url(#gBlob)"/>
<ellipse cx="709.5" cy="374.6" rx="7" ry="11.5" fill="url(#gBlob)"/>
<ellipse cx="723.4" cy="374.6" rx="7" ry="11.5" fill="url(#gBlob)"/>
<ellipse cx="737.3" cy="374.6" rx="7" ry="11.5" fill="url(#gBlob)"/>
<ellipse cx="751.2" cy="374.6" rx="7" ry="11.5" fill="url(#gBlob)"/>
<ellipse cx="765.1" cy="374.6" rx="7" ry="11.5" fill="url(#gBlob)"/>
<ellipse cx="779.0" cy="374.6" rx="7" ry="11.5" fill="url(#gBlob)"/>
<ellipse cx="792.9" cy="374.6" rx="7" ry="11.5" fill="url(#gBlob)"/>
<ellipse cx="806.8" cy="374.6" rx="7" ry="11.5" fill="url(#gBlob)"/>
<ellipse cx="820.7" cy="374.6" rx="7" ry="11.5" fill="url(#gBlob)"/>
<ellipse cx="834.6" cy="374.6" rx="7" ry="11.5" fill="url(#gBlob)"/>
<ellipse cx="848.5" cy="374.6" rx="7" ry="11.5" fill="url(#gBlob)"/>
<ellipse cx="862.4" cy="374.6" rx="7" ry="11.5" fill="url(#gBlob)"/>
<ellipse cx="876.3" cy="374.6" rx="7" ry="11.5" fill="url(#gBlob)"/>
<line x1="563.5" y1="357" x2="885.3" y2="357" stroke="#ddd" stroke-width="1.3" stroke-dasharray="3 2.4"/>
<rect x="565" y="390.2" width="22.3" height="2.2" fill="#f2f2f2"/>
<defs><linearGradient id="gFadeR" x1="0" y1="0" x2="1" y2="0"><stop offset="0" stop-color="#000" stop-opacity="0"/><stop offset="0.25" stop-color="#000" stop-opacity="0.45"/><stop offset="1" stop-color="#000" stop-opacity="0.45"/></linearGradient></defs>
<rect x="800" y="297.8" width="85.3" height="97" fill="url(#gFadeR)"/>
<polyline points="818.0,308.0 825.0,311.7 831.9,308.0 838.9,311.7 845.8,308.0 852.8,311.7 859.7,308.0 866.7,311.7 873.6,308.0 880.6,311.7" fill="none" stroke="#d0d040" stroke-width="0.9"/><polyline points="815.0,321.0 822.0,317.3 828.9,321.0 835.9,317.3 842.8,321.0 849.8,317.3 856.7,321.0 863.7,317.3 870.6,321.0 877.6,317.3 884.5,321.0" fill="none" stroke="#d0d040" stroke-width="0.9"/><circle cx="818.0" cy="308.0" r="1.6" fill="#f0f030"/><circle cx="815.0" cy="321.0" r="1.6" fill="#f0f030"/><rect x="823.3" y="312.6" width="3.8" height="3.8" fill="#151515" stroke="#aaa" stroke-width="0.7"/><circle cx="831.9" cy="308.0" r="1.6" fill="#f0f030"/><circle cx="828.9" cy="321.0" r="1.6" fill="#f0f030"/><rect x="837.2" y="312.6" width="3.8" height="3.8" fill="#151515" stroke="#aaa" stroke-width="0.7"/><circle cx="845.8" cy="308.0" r="1.6" fill="#f0f030"/><circle cx="842.8" cy="321.0" r="1.6" fill="#f0f030"/><rect x="851.1" y="312.6" width="3.8" height="3.8" fill="#151515" stroke="#aaa" stroke-width="0.7"/><circle cx="859.7" cy="308.0" r="1.6" fill="#f0f030"/><circle cx="856.7" cy="321.0" r="1.6" fill="#f0f030"/><rect x="865.0" y="312.6" width="3.8" height="3.8" fill="#151515" stroke="#aaa" stroke-width="0.7"/><circle cx="873.6" cy="308.0" r="1.6" fill="#f0f030"/><circle cx="870.6" cy="321.0" r="1.6" fill="#f0f030"/><rect x="878.9" y="312.6" width="3.8" height="3.8" fill="#151515" stroke="#aaa" stroke-width="0.7"/>
<polyline points="818.0,336.8 825.0,340.5 831.9,336.8 838.9,340.5 845.8,336.8 852.8,340.5 859.7,336.8 866.7,340.5 873.6,336.8 880.6,340.5" fill="none" stroke="#d0d040" stroke-width="0.9"/><polyline points="815.0,349.8 822.0,346.1 828.9,349.8 835.9,346.1 842.8,349.8 849.8,346.1 856.7,349.8 863.7,346.1 870.6,349.8 877.6,346.1 884.5,349.8" fill="none" stroke="#d0d040" stroke-width="0.9"/><circle cx="818.0" cy="336.8" r="1.6" fill="#f0f030"/><circle cx="815.0" cy="349.8" r="1.6" fill="#f0f030"/><rect x="823.3" y="341.40000000000003" width="3.8" height="3.8" fill="#151515" stroke="#aaa" stroke-width="0.7"/><circle cx="831.9" cy="336.8" r="1.6" fill="#f0f030"/><circle cx="828.9" cy="349.8" r="1.6" fill="#f0f030"/><rect x="837.2" y="341.40000000000003" width="3.8" height="3.8" fill="#151515" stroke="#aaa" stroke-width="0.7"/><circle cx="845.8" cy="336.8" r="1.6" fill="#f0f030"/><circle cx="842.8" cy="349.8" r="1.6" fill="#f0f030"/><rect x="851.1" y="341.40000000000003" width="3.8" height="3.8" fill="#151515" stroke="#aaa" stroke-width="0.7"/><circle cx="859.7" cy="336.8" r="1.6" fill="#f0f030"/><circle cx="856.7" cy="349.8" r="1.6" fill="#f0f030"/><rect x="865.0" y="341.40000000000003" width="3.8" height="3.8" fill="#151515" stroke="#aaa" stroke-width="0.7"/><circle cx="873.6" cy="336.8" r="1.6" fill="#f0f030"/><circle cx="870.6" cy="349.8" r="1.6" fill="#f0f030"/><rect x="878.9" y="341.40000000000003" width="3.8" height="3.8" fill="#151515" stroke="#aaa" stroke-width="0.7"/>
<polyline points="818.0,367.3 825.0,371.0 831.9,367.3 838.9,371.0 845.8,367.3 852.8,371.0 859.7,367.3 866.7,371.0 873.6,367.3 880.6,371.0" fill="none" stroke="#d0d040" stroke-width="0.9"/><polyline points="815.0,380.3 822.0,376.6 828.9,380.3 835.9,376.6 842.8,380.3 849.8,376.6 856.7,380.3 863.7,376.6 870.6,380.3 877.6,376.6 884.5,380.3" fill="none" stroke="#d0d040" stroke-width="0.9"/><circle cx="818.0" cy="367.3" r="1.6" fill="#f0f030"/><circle cx="815.0" cy="380.3" r="1.6" fill="#f0f030"/><rect x="823.3" y="371.90000000000003" width="3.8" height="3.8" fill="#e01818" stroke="#f0a0a0" stroke-width="0.7"/><circle cx="831.9" cy="367.3" r="1.6" fill="#f0f030"/><circle cx="828.9" cy="380.3" r="1.6" fill="#f0f030"/><rect x="837.2" y="371.90000000000003" width="3.8" height="3.8" fill="#e01818" stroke="#f0a0a0" stroke-width="0.7"/><circle cx="845.8" cy="367.3" r="1.6" fill="#f0f030"/><circle cx="842.8" cy="380.3" r="1.6" fill="#f0f030"/><rect x="851.1" y="371.90000000000003" width="3.8" height="3.8" fill="#e01818" stroke="#f0a0a0" stroke-width="0.7"/><circle cx="859.7" cy="367.3" r="1.6" fill="#f0f030"/><circle cx="856.7" cy="380.3" r="1.6" fill="#f0f030"/><rect x="865.0" y="371.90000000000003" width="3.8" height="3.8" fill="#e01818" stroke="#f0a0a0" stroke-width="0.7"/><circle cx="873.6" cy="367.3" r="1.6" fill="#f0f030"/><circle cx="870.6" cy="380.3" r="1.6" fill="#f0f030"/><rect x="878.9" y="371.90000000000003" width="3.8" height="3.8" fill="#e01818" stroke="#f0a0a0" stroke-width="0.7"/>
<text x="790.4" y="318" font-size="9.2" font-weight="bold" fill="#e0e0e0" font-family="Liberation Sans, sans-serif">SnS<tspan font-size="6" dy="2">2</tspan></text>
<text x="790.4" y="346.5" font-size="9.2" font-weight="bold" fill="#e0e0e0" font-family="Liberation Sans, sans-serif">SnS<tspan font-size="6" dy="2">2</tspan></text>
<text x="791.5" y="377" font-size="9.2" font-weight="bold" fill="#303030" font-family="Liberation Sans, sans-serif">WS<tspan font-size="6" dy="2">2</tspan></text>
<rect x="891.1" y="298.7" width="87.4" height="92.5" fill="#fff" stroke="#9a9a9a" stroke-width="1"/>
<line x1="918" y1="306.5" x2="977.8" y2="306.5" stroke="#8a40e8" stroke-width="1" stroke-dasharray="3.2 2.2"/>
<line x1="919" y1="322.1" x2="977.8" y2="322.1" stroke="#8a40e8" stroke-width="1" stroke-dasharray="3.2 2.2"/>
<line x1="915" y1="335.4" x2="977.8" y2="335.4" stroke="#8a40e8" stroke-width="1" stroke-dasharray="3.2 2.2"/>
<line x1="915" y1="351" x2="977.8" y2="351" stroke="#8a40e8" stroke-width="1" stroke-dasharray="3.2 2.2"/>
<line x1="922" y1="364.7" x2="977.8" y2="364.7" stroke="#8a40e8" stroke-width="1" stroke-dasharray="3.2 2.2"/>
<line x1="921" y1="380.9" x2="977.8" y2="380.9" stroke="#8a40e8" stroke-width="1" stroke-dasharray="3.2 2.2"/>
<line x1="892" y1="314.5" x2="922" y2="314.5" stroke="#f0965a" stroke-width="1" stroke-dasharray="3.2 2.2"/>
<line x1="892" y1="343.8" x2="923.5" y2="343.8" stroke="#f0965a" stroke-width="1" stroke-dasharray="3.2 2.2"/>
<line x1="892" y1="372.9" x2="958" y2="372.9" stroke="#f0965a" stroke-width="1" stroke-dasharray="3.2 2.2"/>
<line x1="900" y1="316.5" x2="900" y2="319.5" stroke="#f08a50" stroke-width="1"/>
<line x1="900" y1="338.8" x2="900" y2="341.8" stroke="#f08a50" stroke-width="1"/>
<polygon points="898,318.5 902,318.5 900,315.3" fill="#f07a40"/>
<polygon points="898,339.8 902,339.8 900,343.0" fill="#f07a40"/>
<line x1="900" y1="345.8" x2="900" y2="348.8" stroke="#f08a50" stroke-width="1"/>
<line x1="900" y1="367.9" x2="900" y2="370.9" stroke="#f08a50" stroke-width="1"/>
<polygon points="898,347.8 902,347.8 900,344.6" fill="#f07a40"/>
<polygon points="898,368.9 902,368.9 900,372.09999999999997" fill="#f07a40"/>
<line x1="949.6" y1="324.1" x2="949.6" y2="333.4" stroke="#8a40e8" stroke-width="1"/>
<polygon points="947.8,326.1 951.4,326.1 949.6,322.90000000000003" fill="#8a40e8"/>
<polygon points="947.8,331.4 951.4,331.4 949.6,334.59999999999997" fill="#8a40e8"/>
<line x1="949.6" y1="353" x2="949.6" y2="362.7" stroke="#8a40e8" stroke-width="1"/>
<polygon points="947.8,355 951.4,355 949.6,351.8" fill="#8a40e8"/>
<polygon points="947.8,360.7 951.4,360.7 949.6,363.9" fill="#8a40e8"/>
<path d="M911.4,298.9 C912.5,300.3 916.1,304.8 918,307.4 C919.9,310.0 922.3,312.2 922.5,314.5 C922.7,316.8 920.8,318.5 919.3,321 C917.8,323.5 913.7,326.9 913.4,329.5 C913.1,332.1 915.6,334.3 917.3,336.7 C919.0,339.1 924.0,341.6 923.8,343.8 C923.6,346.0 918.3,347.6 916,349.7 C913.7,351.8 909.6,353.9 910.1,356.2 C910.6,358.5 914.3,361.3 919.3,363.4 C924.3,365.5 933.4,367.0 940,368.6 C946.6,370.2 959.0,371.8 959,372.9 C959.0,374.0 945.5,374.2 940,375.1 C934.5,376.0 930.1,376.7 925.8,378.3 C921.5,379.9 917.1,382.6 914,384.8 C910.9,387.0 908.1,390.3 906.9,391.4" fill="none" stroke="#2a2a2a" stroke-width="1.2"/>
<text x="891.6" y="332" font-size="8.4" fill="#333" font-weight="bold" textLength="16" lengthAdjust="spacingAndGlyphs" font-family="Liberation Serif, serif">6.4Å</text>
<text x="891.6" y="361.5" font-size="8.4" fill="#333" font-weight="bold" textLength="16" lengthAdjust="spacingAndGlyphs" font-family="Liberation Serif, serif">6.4Å</text>
<text x="953.8" y="332.6" font-size="8.4" fill="#333" font-weight="bold" textLength="15.6" lengthAdjust="spacingAndGlyphs" font-family="Liberation Serif, serif">2.9Å</text>
<text x="953.8" y="361.5" font-size="8.4" fill="#333" font-weight="bold" textLength="15.6" lengthAdjust="spacingAndGlyphs" font-family="Liberation Serif, serif">2.9Å</text>
<text x="910.2" y="311" font-size="8.2" fill="#3a3a3a" font-weight="bold" font-family="Liberation Serif, serif">S</text>
<text x="924.5" y="317.3" font-size="8.2" fill="#3a3a3a" font-weight="bold" font-family="Liberation Serif, serif">Sn</text>
<text x="910.9" y="324.7" font-size="8.2" fill="#3a3a3a" font-weight="bold" font-family="Liberation Serif, serif">S</text>
<text x="908.9" y="339.4" font-size="8.2" fill="#3a3a3a" font-weight="bold" font-family="Liberation Serif, serif">S</text>
<text x="925.8" y="346.6" font-size="8.2" fill="#3a3a3a" font-weight="bold" font-family="Liberation Serif, serif">Sn</text>
<text x="908.7" y="353.3" font-size="8.2" fill="#3a3a3a" font-weight="bold" font-family="Liberation Serif, serif">S</text>
<text x="916.5" y="369.6" font-size="8.2" fill="#3a3a3a" font-weight="bold" font-family="Liberation Serif, serif">S</text>
<text x="959" y="376" font-size="8.2" fill="#3a3a3a" font-weight="bold" font-family="Liberation Serif, serif">W</text>
<text x="915.7" y="383.3" font-size="8.2" fill="#3a3a3a" font-weight="bold" font-family="Liberation Serif, serif">S</text>
<defs>
<linearGradient id="gSub" x1="0" y1="0" x2="0" y2="1"><stop offset="0" stop-color="#eef6fc"/><stop offset="1" stop-color="#e0eef8"/></linearGradient>
<pattern id="pElec" patternUnits="userSpaceOnUse" width="2" height="3"><rect x="0" y="0" width="2" height="3" fill="#9a9a96"/><rect x="1.2" y="0" width="0.8" height="3" fill="#6f6f6a"/></pattern>
<linearGradient id="gBeam" x1="0" y1="0" x2="1" y2="0"><stop offset="0" stop-color="#ff9a9a" stop-opacity="0"/><stop offset="0.3" stop-color="#f46868"/><stop offset="0.5" stop-color="#e82a2a"/><stop offset="0.7" stop-color="#f46868"/><stop offset="1" stop-color="#ff9a9a" stop-opacity="0"/></linearGradient>
<pattern id="pLat" patternUnits="userSpaceOnUse" width="3" height="3" patternTransform="rotate(-25)"><rect width="3" height="3" fill="#8488bc"/><circle cx="1.5" cy="1.5" r="0.85" fill="#e6e6f4"/></pattern>
<pattern id="pOr" patternUnits="userSpaceOnUse" width="2.4" height="6" patternTransform="rotate(20)"><rect width="2.4" height="6" fill="#f09a30"/><rect width="0.7" height="6" fill="#c86a18"/></pattern>
</defs>
<rect x="565" y="453.3" width="415.5" height="276.5" fill="#fff" stroke="#3a3a3a" stroke-width="1.8"/>
<ellipse cx="618.1" cy="509.2" rx="30.4" ry="21.3" fill="#fff" stroke="#d4d2cc" stroke-width="0.6"/>
<ellipse cx="618.1" cy="508.8" rx="29" ry="20.2" fill="#e2dfd7"/>
<rect x="708.3" y="488.3" width="107.7" height="8.1" fill="url(#gSub)"/>
<line x1="708.3" y1="488.3" x2="816" y2="488.3" stroke="#9aa" stroke-width="0.5"/>
<rect x="718.8" y="485" width="23.2" height="2.6" fill="url(#pElec)"/>
<rect x="752.4" y="485" width="25.2" height="2.6" fill="url(#pElec)"/>
<rect x="785.5" y="485" width="25.7" height="2.6" fill="url(#pElec)"/>
<circle cx="719.5" cy="480.6" r="1.05" fill="#b03048"/>
<circle cx="721.8" cy="480.6" r="1.05" fill="#6a5a9a"/>
<circle cx="724.1" cy="480.6" r="1.05" fill="#6a5a9a"/>
<circle cx="726.4" cy="480.6" r="1.05" fill="#b03048"/>
<circle cx="728.7" cy="480.6" r="1.05" fill="#6a5a9a"/>
<circle cx="731.0" cy="480.6" r="1.05" fill="#6a5a9a"/>
<circle cx="733.3" cy="480.6" r="1.05" fill="#b03048"/>
<circle cx="735.6" cy="480.6" r="1.05" fill="#6a5a9a"/>
<circle cx="737.9" cy="480.6" r="1.05" fill="#6a5a9a"/>
<circle cx="722.5" cy="478.2" r="1.1" fill="#c02a48"/>
<circle cx="724.5" cy="477.6" r="1.1" fill="#b02848"/>
<circle cx="726.5" cy="478.4" r="1.1" fill="#8a3a70"/>
<circle cx="728.5" cy="478" r="1.1" fill="#c02a48"/>
<circle cx="719.8" cy="462.6" r="1.1" fill="#8a6a7a"/>
<circle cx="720.3" cy="467.5" r="1.1" fill="#b83040"/>
<circle cx="722.8" cy="471" r="1.1" fill="#b83040"/>
<circle cx="732" cy="472" r="1.1" fill="#d8d8e4"/>
<circle cx="733.5" cy="468" r="1.1" fill="#e0e0ea"/>
<circle cx="738" cy="466" r="1.1" fill="#e2e2ea"/>
<circle cx="739.8" cy="459.8" r="1.1" fill="#e4e4ec"/>
<circle cx="732.5" cy="475" r="1.1" fill="#c84a5a"/>
<line x1="709" y1="497" x2="737.4" y2="538.4" stroke="#666" stroke-width="0.6" stroke-dasharray="1.4 1.2"/>
<line x1="816" y1="497.5" x2="787.2" y2="538" stroke="#666" stroke-width="0.6" stroke-dasharray="1.4 1.2"/>
<ellipse cx="761.8" cy="553" rx="31.4" ry="21" fill="#f6f6f6" stroke="#a8a8a8" stroke-width="0.7"/>
<rect x="744.4" y="540.4" width="6.5" height="4.3" fill="#8c90c2"/>
<rect x="744.4" y="546.4" width="6.5" height="4.3" fill="#8c90c2"/>
<rect x="744.4" y="552.4" width="6.5" height="4.3" fill="#8c90c2"/>
<rect x="744.4" y="558.8" width="6.5" height="4.3" fill="#8c90c2"/>
<rect x="753.6" y="540.4" width="6" height="4.3" fill="#d9d8ca"/>
<rect x="753.6" y="546.4" width="6" height="4.3" fill="#d9d8ca"/>
<rect x="753.6" y="552.4" width="6" height="4.3" fill="#d9d8ca"/>
<rect x="753.6" y="558.8" width="6" height="4.3" fill="#d9d8ca"/>
<rect x="763.2" y="540.4" width="6" height="4.3" fill="#d9d8ca"/>
<rect x="763.2" y="546.4" width="6" height="4.3" fill="#d9d8ca"/>
<rect x="763.2" y="552.4" width="6" height="4.3" fill="#d9d8ca"/>
<rect x="763.2" y="558.8" width="6" height="4.3" fill="#d9d8ca"/>
<rect x="772.8" y="540.4" width="6" height="4.3" fill="#d9d8ca"/>
<rect x="772.8" y="546.4" width="6" height="4.3" fill="#d9d8ca"/>
<rect x="772.8" y="552.4" width="6" height="4.3" fill="#d9d8ca"/>
<rect x="772.8" y="558.8" width="6" height="4.3" fill="#d9d8ca"/>
<ellipse cx="920.6" cy="544.5" rx="50.4" ry="43.6" fill="#fbfbfb" stroke="#6a6a6a" stroke-width="0.8"/>
<polygon points="879.2,531.3 888.7,526.5 895.0,534.3 885.5,539.1" fill="#6c69a5"/>
<polygon points="888.1,542.3 897.6,537.5 903.9,545.3 894.4,550.1" fill="#6d6aa6"/>
<polygon points="897.2,553.7 906.7,548.9 913.0,556.7 903.5,561.5" fill="#6a67a3"/>
<polygon points="906.8,566.4 916.3,561.6 922.6,569.4 913.1,574.2" fill="#6e6ba7"/>
<polygon points="893.3,524.1 902.8,519.3 909.1,527.1 899.6,531.9" fill="#e48a3a"/>
<polygon points="902.0,534.9 911.5,530.1 917.8,537.9 908.3,542.7" fill="#e5883a"/>
<polygon points="911.1,545.6 920.6,540.8 926.9,548.6 917.4,553.4" fill="#e28a3c"/>
<polygon points="920.9,557.3 930.4,552.5 936.7,560.3 927.2,565.1" fill="#e4903a"/>
<polygon points="905.9,516.9 915.4,512.1 921.7,519.9 912.2,524.7" fill="#dc6a2e"/>
<polygon points="915.0,526.7 924.5,521.9 930.8,529.7 921.3,534.5" fill="#de6c2e"/>
<polygon points="924.5,537.8 934.0,533.0 940.3,540.8 930.8,545.6" fill="#dc6e2e"/>
<polygon points="935.0,548.2 944.5,543.4 950.8,551.2 941.3,556.0" fill="#e0702e"/>
<polygon points="918.3,509.8 927.8,505.0 934.1,512.8 924.6,517.6" fill="#92462e"/>
<polygon points="927.2,519.5 936.7,514.7 943.0,522.5 933.5,527.3" fill="#9a4a30"/>
<polygon points="936.8,529.7 946.3,524.9 952.6,532.7 943.1,537.5" fill="#9c4c30"/>
<polygon points="946.9,540.4 956.4,535.6 962.7,543.4 953.2,548.2" fill="#a25030"/>
<line x1="889.1" y1="583.5" x2="855" y2="622" stroke="#555" stroke-width="0.6" stroke-dasharray="1.6 1.2"/>
<line x1="944.4" y1="586.1" x2="978" y2="622" stroke="#555" stroke-width="0.6" stroke-dasharray="1.6 1.2"/>
<rect x="854.6" y="622" width="123.4" height="105" fill="#6f7279"/>
<polygon points="854.6,622 978,622 978,630 958,627 940,625 918,624.2 900,623.8 870,625.8 854.6,628" fill="#fff"/>
<polygon points="854.6,628 870,625.8 900,623.8 918,624.2 940,625 958,627 978,630 978,641 954,636 930,633.5 900,631.5 870,631 854.6,632" fill="#c0603c"/>
<polygon points="880,627 905,625.6 930,626.5 928,629.5 902,629 881,630" fill="#a85a40"/>
<polygon points="935,628 958,629.5 975,632.5 974,636 952,633 934,631" fill="#d86a3c"/>
<polygon points="854.6,631 872,630.2 900,631.5 920,633.6 906,644.8 878,645.5 854.6,643" fill="#f0a03a"/>
<polygon points="854.6,631 872,630.2 900,631.5 920,633.6 906,644.8 878,645.5 854.6,643" fill="url(#pOr)" fill-opacity="0.35"/>
<polygon points="854.6,643 878,645.5 906,644.8 920,633.6 923,635 910,648.5 878,650 854.6,647" fill="#6a8a84"/>
<polygon points="923,635 952,637.4 978,641 978,646.5 947.5,639.4 910,647" fill="#e2743a"/>
<polygon points="907.9,647.8 947.5,639.4 978,646.5 978,649 955.1,660.7" fill="#f39a30"/>
<polygon points="907.9,647.8 947.5,639.4 978,646.5 978,649 955.1,660.7" fill="url(#pOr)" fill-opacity="0.5"/>
<polygon points="907.9,647.8 955.1,660.7 978,649 978,652.5 955.1,664.5 907.9,651.5" fill="#5f8a7c"/>
<polygon points="907.9,651.5 955.1,664.5 978,652.5 978,657 955.1,669 907.9,656" fill="#8a7a62"/>
<polygon points="907.9,656 955.1,669 978,657 978,661 955.1,674 920,664 907.9,660" fill="#7a6a5c" fill-opacity="0.85"/>
<polygon points="854.6,647 878,650 885,652.8 862,654.3 854.6,654.4" fill="#b4b8c6"/>
<polygon points="854.6,654.6 883.5,652.6 933.8,666.8 933.8,676 854.6,709.5" fill="url(#pLat)"/>
<polygon points="854.6,709.5 933.8,676 933.8,682.5 854.6,718" fill="#c9c6aa"/>
<polygon points="854.6,718 933.8,682.5 933.8,686 854.6,722" fill="#9a9a8a" fill-opacity="0.6"/>
<ellipse cx="618.1" cy="636.4" rx="31.3" ry="21.3" fill="#f5f5f5" stroke="#c4c4c4" stroke-width="0.7"/>
<rect x="601.3" y="624.2" width="6.5" height="4.6" fill="#dcd9ca"/>
<rect x="601.3" y="630.1" width="6.5" height="4.6" fill="#dcd9ca"/>
<rect x="601.3" y="636.4" width="6.5" height="4.6" fill="#dcd9ca"/>
<rect x="601.3" y="642.5" width="6.5" height="4.6" fill="#dcd9ca"/>
<rect x="610.6" y="624.2" width="6.5" height="4.6" fill="#dcd9ca"/>
<rect x="610.6" y="630.1" width="6.5" height="4.6" fill="#dcd9ca"/>
<rect x="610.6" y="636.4" width="6.5" height="4.6" fill="#dcd9ca"/>
<rect x="610.6" y="642.5" width="6.5" height="4.6" fill="#dcd9ca"/>
<rect x="620.5" y="624.2" width="6.8" height="4.6" fill="#dcd9ca"/>
<rect x="620.5" y="630.1" width="6.8" height="4.6" fill="#dcd9ca"/>
<rect x="620.5" y="636.4" width="6.8" height="4.6" fill="#dcd9ca"/>
<rect x="620.5" y="642.5" width="6.8" height="4.6" fill="#dcd9ca"/>
<rect x="628" y="624.2" width="7.6" height="4.6" fill="#dcd9ca"/>
<rect x="628" y="630.1" width="7.6" height="4.6" fill="#dcd9ca"/>
<rect x="628" y="636.4" width="7.6" height="4.6" fill="#dcd9ca"/>
<rect x="628" y="642.5" width="7.6" height="4.6" fill="#dcd9ca"/>
<rect x="624.4" y="594" width="8" height="36" fill="url(#gBeam)" opacity="0.35"/>
<rect x="626.6" y="594" width="3.6" height="37" rx="1.2" fill="#f07482"/>
<rect x="627.5" y="594" width="1.8" height="34" fill="#e85a6a"/>
<rect x="625.3" y="575.4" width="6.2" height="19" rx="2" fill="#151515"/>
<ellipse cx="628.4" cy="577" rx="2.8" ry="1.3" fill="#555"/>
<line x1="595.3" y1="654" x2="565.5" y2="715.8" stroke="#555" stroke-width="0.6" stroke-dasharray="1.4 1.2"/>
<line x1="643" y1="654" x2="672.2" y2="715.8" stroke="#555" stroke-width="0.6" stroke-dasharray="1.4 1.2"/>
<rect x="565.5" y="717.2" width="107.8" height="9" fill="url(#gSub)"/>
<rect x="575.4" y="714.3" width="26.4" height="3" fill="url(#pElec)"/>
<rect x="609.2" y="714.3" width="25.7" height="3" fill="url(#pElec)"/>
<rect x="643" y="714.3" width="26.1" height="3" fill="url(#pElec)"/>
<ellipse cx="761" cy="635.2" rx="31" ry="21" fill="#f4f4f4" stroke="#b0b0b0" stroke-width="0.7"/>
<rect x="743.6" y="623" width="7.2" height="4.8" fill="#d97a7a"/>
<rect x="743.6" y="629.4" width="7.2" height="4.8" fill="#d97a7a"/>
<rect x="743.6" y="636.1" width="7.2" height="4.8" fill="#d97a7a"/>
<rect x="743.6" y="642.5" width="7.2" height="4.8" fill="#d97a7a"/>
<rect x="753.8" y="623" width="7.2" height="4.8" fill="#d9d6c6"/>
<rect x="753.8" y="629.4" width="7.2" height="4.8" fill="#d9d6c6"/>
<rect x="753.8" y="636.1" width="7.2" height="4.8" fill="#d9d6c6"/>
<rect x="753.8" y="642.5" width="7.2" height="4.8" fill="#d9d6c6"/>
<rect x="762.5" y="623" width="7.2" height="4.8" fill="#d9d6c6"/>
<rect x="762.5" y="629.4" width="7.2" height="4.8" fill="#d9d6c6"/>
<rect x="762.5" y="636.1" width="7.2" height="4.8" fill="#d9d6c6"/>
<rect x="762.5" y="642.5" width="7.2" height="4.8" fill="#d9d6c6"/>
<rect x="772" y="623" width="7.2" height="4.8" fill="#d9d6c6"/>
<rect x="772" y="629.4" width="7.2" height="4.8" fill="#d9d6c6"/>
<rect x="772" y="636.1" width="7.2" height="4.8" fill="#d9d6c6"/>
<rect x="772" y="642.5" width="7.2" height="4.8" fill="#d9d6c6"/>
<line x1="739.3" y1="654.1" x2="710.2" y2="715.2" stroke="#555" stroke-width="0.6" stroke-dasharray="1.4 1.2"/>
<line x1="788.7" y1="654" x2="817.8" y2="715.2" stroke="#555" stroke-width="0.6" stroke-dasharray="1.4 1.2"/>
<rect x="710" y="716.7" width="106.6" height="8.7" fill="url(#gSub)"/>
<rect x="720.4" y="713.8" width="24.6" height="3" fill="url(#pElec)"/>
<rect x="753.8" y="713.8" width="24.7" height="3" fill="url(#pElec)"/>
<rect x="787.2" y="713.8" width="24.8" height="3" fill="url(#pElec)"/>
<rect x="749.4" y="708" width="62.6" height="3.4" fill="#ececec" stroke="#ddd" stroke-width="0.4"/>
<rect x="720.4" y="706.2" width="17.2" height="6.4" fill="#c23a4e"/>
<rect x="720.4" y="706.2" width="17.2" height="1.4" fill="#9a2a40"/>
<circle cx="735.6" cy="689" r="1.3" fill="#c23a4e"/>
<circle cx="737.2" cy="684" r="1.3" fill="#c23a4e"/>
<circle cx="739.5" cy="693" r="1.3" fill="#c23a4e"/>
<circle cx="742" cy="694.6" r="1.3" fill="#c23a4e"/>
<circle cx="736" cy="699" r="1.3" fill="#c23a4e"/>
<circle cx="738.6" cy="701.6" r="1.3" fill="#c23a4e"/>
<circle cx="730.8" cy="697" r="1.3" fill="#c23a4e"/>
<circle cx="734.5" cy="703.5" r="1.3" fill="#c23a4e"/>
<text transform="translate(0.18,28.4) scale(0.943,1)" font-size="40.5" font-weight="bold" fill="#000" font-family="Liberation Serif, serif">a</text>
<text transform="translate(541.84,29) scale(1.04,1)" font-size="36.9" font-weight="bold" fill="#000" font-family="Liberation Serif, serif">b</text>
<text transform="translate(-0.3,468.2) scale(0.945,1)" font-size="42.4" font-weight="bold" fill="#000" font-family="Liberation Serif, serif">c</text>
<text transform="translate(539.2,468.2) scale(0.965,1)" font-size="39.2" font-weight="bold" fill="#000" font-family="Liberation Serif, serif">d</text>
<rect x="985" y="0" width="2" height="768" fill="#000"/>
</svg>
</body></html>
